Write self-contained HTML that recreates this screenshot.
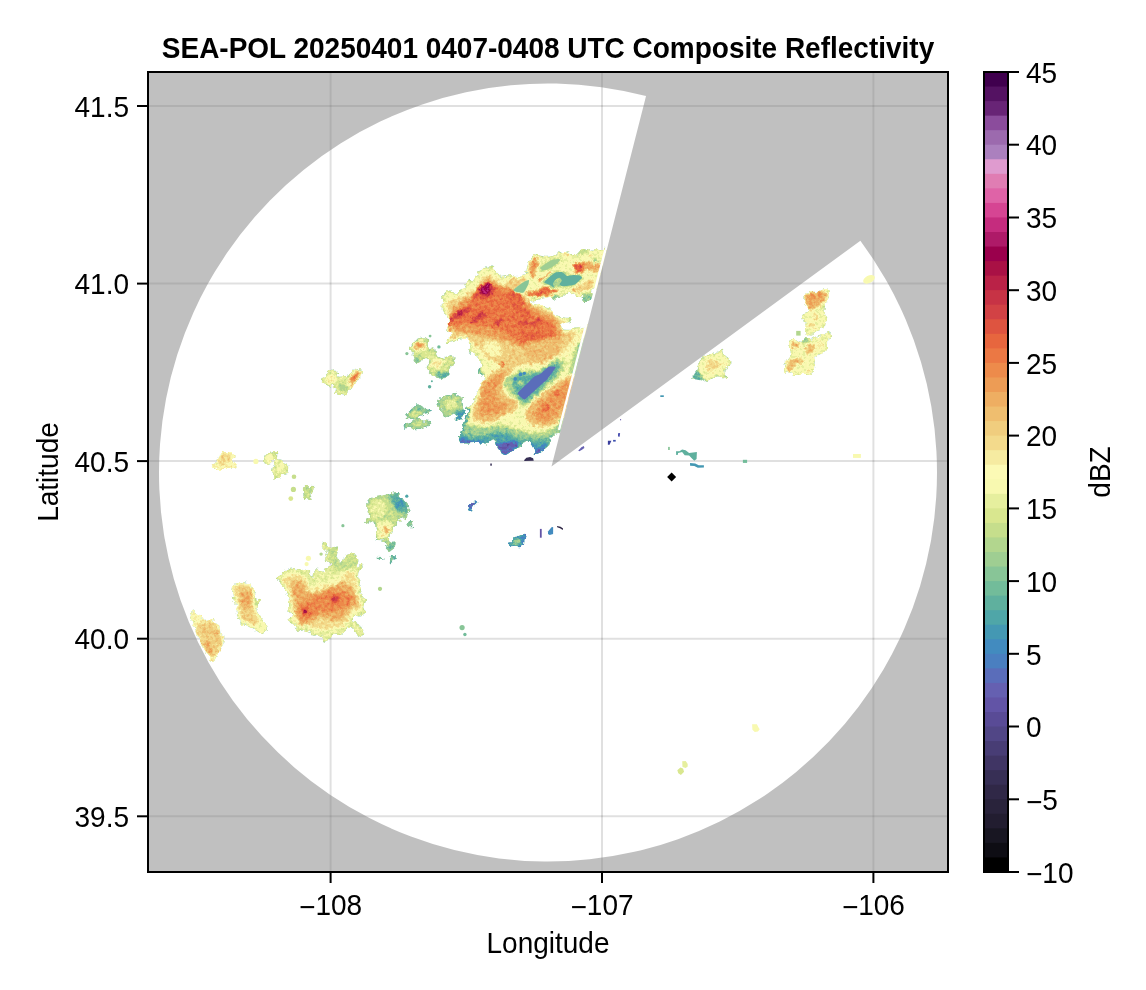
<!DOCTYPE html>
<html lang="en">
<head>
<meta charset="utf-8">
<title>SEA-POL 20250401 0407-0408 UTC Composite Reflectivity</title>
<style>
html,body{margin:0;padding:0;background:#fff;}
body{width:1146px;height:990px;overflow:hidden;}
svg{display:block;}
text{font-family:"Liberation Sans",sans-serif;font-size:28px;fill:#000;}
.t{font-weight:bold;}
</style>
</head>
<body>
<svg width="1146" height="990" viewBox="0 0 1146 990">
<rect x="0" y="0" width="1146" height="990" fill="#ffffff"/>

<defs><clipPath id="ax"><rect x="148" y="72" width="800" height="800"/></clipPath>
<clipPath id="wh"><path d="M551.5 466.5L860.39 240.70A389 389 0 1 1 646.03 96.06Z"/></clipPath>
</defs>
<g clip-path="url(#ax)">
<g stroke="#000" stroke-opacity="0.12" stroke-width="2"><line x1="330.6" y1="72" x2="330.6" y2="872"/><line x1="602.0" y1="72" x2="602.0" y2="872"/><line x1="873.4" y1="72" x2="873.4" y2="872"/><line x1="148" y1="106.0" x2="948" y2="106.0"/><line x1="148" y1="283.6" x2="948" y2="283.6"/><line x1="148" y1="461.1" x2="948" y2="461.1"/><line x1="148" y1="638.7" x2="948" y2="638.7"/><line x1="148" y1="816.3" x2="948" y2="816.3"/></g>
<g clip-path="url(#wh)">
<defs>
<filter id="f0" color-interpolation-filters="sRGB" x="-20%" y="-20%" width="140%" height="140%"><feGaussianBlur stdDeviation="0.6"/></filter>
<filter id="f1" color-interpolation-filters="sRGB" x="-30%" y="-30%" width="160%" height="160%"><feGaussianBlur stdDeviation="0.9"/></filter>
<filter id="f2" color-interpolation-filters="sRGB" x="-30%" y="-30%" width="160%" height="160%"><feGaussianBlur stdDeviation="1.7"/></filter>
<filter id="tex" filterUnits="userSpaceOnUse" x="150" y="230" width="760" height="560" color-interpolation-filters="sRGB"><feTurbulence type="fractalNoise" baseFrequency="0.22" numOctaves="2" seed="7" result="n"/><feDisplacementMap in="SourceGraphic" in2="n" scale="6" xChannelSelector="R" yChannelSelector="G" result="d"/><feFlood flood-color="#5a5a5a" result="bg"/><feComposite in="d" in2="bg" operator="over" result="dd"/><feTurbulence type="fractalNoise" baseFrequency="0.32" numOctaves="2" seed="21" result="m"/><feColorMatrix in="m" type="matrix" values="1 0 0 0 0  1 0 0 0 0  1 0 0 0 0  0 0 0 0 1" result="m1"/><feComposite in="dd" in2="m1" operator="arithmetic" k1="0" k2="1" k3="0.1" k4="-0.05" result="c"/><feComponentTransfer in="c" result="t"><feFuncR type="discrete" tableValues="0.000 0.055 0.094 0.133 0.161 0.188 0.216 0.251 0.282 0.318 0.349 0.384 0.396 0.353 0.290 0.259 0.267 0.310 0.373 0.447 0.533 0.624 0.698 0.776 0.851 0.902 0.973 0.988 0.965 0.953 0.941 0.937 0.933 0.929 0.929 0.922 0.906 0.871 0.824 0.780 0.729 0.663 0.604 0.682 0.773 0.839 0.875 0.878 0.875 0.671 0.612 0.545 0.408 0.329 0.251"/><feFuncG type="discrete" tableValues="0.000 0.051 0.086 0.114 0.137 0.157 0.184 0.208 0.239 0.275 0.294 0.329 0.376 0.427 0.498 0.545 0.596 0.651 0.690 0.737 0.773 0.808 0.839 0.871 0.906 0.937 0.976 0.980 0.922 0.855 0.804 0.745 0.682 0.612 0.545 0.471 0.400 0.329 0.259 0.200 0.133 0.067 0.000 0.102 0.173 0.271 0.388 0.490 0.608 0.502 0.416 0.298 0.141 0.071 0.000"/><feFuncB type="discrete" tableValues="0.000 0.078 0.133 0.188 0.231 0.278 0.333 0.392 0.459 0.525 0.588 0.651 0.694 0.729 0.753 0.749 0.702 0.659 0.620 0.604 0.592 0.573 0.557 0.549 0.561 0.620 0.690 0.710 0.631 0.549 0.494 0.435 0.384 0.333 0.294 0.267 0.243 0.251 0.271 0.271 0.278 0.271 0.298 0.408 0.494 0.576 0.655 0.702 0.812 0.745 0.682 0.612 0.463 0.384 0.306"/></feComponentTransfer><feComposite in="t" in2="d" operator="in"/></filter>
</defs>
<g filter="url(#tex)">
<clipPath id="b1"><path d="M442.7 297.6C443.4 295.0 444.9 293.6 446.2 292.4C447.5 291.2 449.1 290.3 450.6 290.3C452.0 290.3 453.0 292.5 454.9 292.4C456.8 292.3 460.0 291.4 461.9 289.8C463.8 288.2 465.0 284.6 466.3 282.8C467.6 281.0 468.5 278.9 469.8 278.8C471.1 278.6 472.8 283.0 474.1 281.9C475.5 280.8 476.2 274.5 477.6 272.3C479.1 270.1 480.8 269.8 482.9 268.8C484.9 267.8 487.8 265.9 489.9 266.2C491.9 266.5 493.1 268.8 495.1 270.6C497.1 272.3 499.5 276.0 502.1 276.7C504.7 277.4 508.0 274.9 510.8 274.9C513.6 275.0 516.3 277.2 518.8 276.9C521.3 276.6 524.5 274.7 525.8 273.4C527.1 272.1 526.1 271.0 526.7 269.0C527.3 266.9 527.9 263.5 529.3 261.1C530.8 258.7 533.7 255.4 535.5 254.5C537.2 253.6 538.3 255.5 539.9 255.8C541.5 256.2 543.0 256.7 545.1 256.7C547.3 256.7 550.7 256.7 553.1 255.8C555.4 254.9 557.5 251.9 559.2 251.4C561.0 251.0 562.1 253.2 563.6 253.2C565.1 253.2 566.7 251.1 568.0 251.4C569.3 251.7 570.0 254.5 571.5 254.9C573.0 255.4 574.9 255.2 576.8 254.1C578.7 253.0 581.2 248.9 582.9 248.3C584.7 247.8 585.4 250.4 587.3 250.5C589.2 250.7 592.2 249.3 594.4 249.2C596.6 249.2 598.5 249.9 600.5 250.1C602.6 250.3 605.6 244.0 606.7 250.5C607.7 257.1 608.7 282.8 606.7 289.2C604.6 295.7 597.0 288.6 594.4 289.2C591.7 289.8 591.1 291.4 590.8 292.7C590.6 294.0 592.9 295.7 592.6 297.1C592.3 298.6 590.6 300.8 589.1 301.5C587.6 302.2 584.8 302.4 583.8 301.5C582.8 300.6 584.1 297.0 582.9 296.2C581.8 295.5 578.1 297.4 576.8 297.1C575.5 296.8 576.1 295.2 575.0 294.5C574.0 293.7 572.4 292.7 570.6 292.7C568.9 292.7 565.8 293.9 564.5 294.5C563.2 295.1 563.9 295.7 562.7 296.2C561.6 296.8 558.6 297.3 557.5 298.0C556.3 298.7 556.4 300.3 555.7 300.6C555.0 300.9 553.8 300.3 553.1 299.8C552.3 299.2 552.6 297.4 551.3 297.1C550.0 296.8 547.2 297.6 545.1 298.0C543.1 298.4 541.2 299.3 539.0 299.8C536.8 300.2 533.4 300.2 532.0 300.6C530.6 301.1 529.9 301.9 530.7 302.6C531.4 303.2 534.2 304.0 536.4 304.6C538.5 305.1 541.2 305.4 543.4 305.9C545.6 306.4 548.1 306.5 549.5 307.7C551.0 308.8 550.9 311.6 552.2 312.9C553.5 314.3 555.7 314.8 557.5 315.6C559.2 316.3 560.7 316.9 562.7 317.3C564.8 317.8 568.6 317.5 569.8 318.2C570.9 318.9 570.6 320.9 569.8 321.7C568.9 322.5 566.1 322.6 564.5 323.0C562.9 323.5 560.5 323.6 560.1 324.4C559.6 325.2 559.9 327.1 561.8 327.9C563.7 328.6 568.4 328.8 571.5 328.8C574.6 328.8 576.5 328.2 580.3 327.9C584.1 327.6 592.0 317.9 594.4 327.0C596.8 336.1 594.6 364.7 594.7 382.4C594.7 400.1 600.8 424.6 594.7 433.1C588.6 441.5 564.7 432.6 558.0 433.1C551.3 433.5 555.8 434.5 554.5 435.7C553.2 436.8 551.0 438.4 550.1 440.0C549.3 441.6 550.6 443.5 549.3 445.3C547.9 447.0 544.6 449.1 542.3 450.5C539.9 452.0 536.7 454.3 535.3 454.0C533.8 453.7 534.7 450.8 533.5 448.8C532.4 446.7 530.3 442.4 528.3 441.8C526.3 441.2 523.9 443.8 521.3 445.3C518.7 446.7 515.2 448.9 512.6 450.5C510.0 452.1 507.6 454.6 505.6 454.9C503.6 455.2 501.8 453.9 500.3 452.3C498.9 450.7 498.0 447.5 496.9 445.3C495.7 443.1 495.1 439.3 493.4 439.2C491.6 439.0 488.4 443.7 486.4 444.4C484.3 445.1 483.2 443.8 481.1 443.5C479.1 443.2 476.8 442.7 474.1 442.7C471.5 442.7 467.9 444.0 465.4 443.5C462.9 443.1 460.2 441.8 459.3 440.0C458.4 438.3 459.4 435.7 460.2 433.1C460.9 430.4 462.5 427.5 463.7 424.3C464.8 421.1 466.7 416.6 467.2 413.8C467.6 411.1 465.4 409.5 466.3 407.7C467.2 406.0 470.7 405.5 472.4 403.4C474.1 401.2 475.5 397.8 476.8 394.6C478.1 391.4 479.0 386.9 480.3 384.1C481.6 381.4 484.6 379.5 484.6 378.0C484.6 376.6 481.4 376.9 480.3 375.4C479.1 374.0 477.5 370.8 477.6 369.3C477.8 367.8 480.8 368.4 481.1 366.7C481.4 364.9 480.8 361.3 479.4 358.8C477.9 356.3 474.1 352.9 472.4 351.8C470.7 350.8 469.2 353.7 468.9 352.7C468.6 351.7 470.9 348.2 470.7 345.7C470.4 343.2 468.9 338.9 467.2 337.9C465.4 336.8 463.4 338.7 460.2 339.6C457.0 340.4 450.3 342.9 447.9 343.1C445.6 343.2 445.6 341.9 446.2 340.4C446.8 339.0 451.4 335.9 451.4 334.3C451.4 332.7 446.6 332.9 446.2 330.8C445.8 328.8 448.8 324.4 448.8 322.1C448.8 319.8 447.4 319.2 446.2 316.9C445.0 314.5 442.4 311.3 441.8 308.1C441.3 304.9 442.0 300.3 442.7 297.6Z"/></clipPath>
<g clip-path="url(#b1)">
<path d="M442.7 297.6C443.4 295.0 444.9 293.6 446.2 292.4C447.5 291.2 449.1 290.3 450.6 290.3C452.0 290.3 453.0 292.5 454.9 292.4C456.8 292.3 460.0 291.4 461.9 289.8C463.8 288.2 465.0 284.6 466.3 282.8C467.6 281.0 468.5 278.9 469.8 278.8C471.1 278.6 472.8 283.0 474.1 281.9C475.5 280.8 476.2 274.5 477.6 272.3C479.1 270.1 480.8 269.8 482.9 268.8C484.9 267.8 487.8 265.9 489.9 266.2C491.9 266.5 493.1 268.8 495.1 270.6C497.1 272.3 499.5 276.0 502.1 276.7C504.7 277.4 508.0 274.9 510.8 274.9C513.6 275.0 516.3 277.2 518.8 276.9C521.3 276.6 524.5 274.7 525.8 273.4C527.1 272.1 526.1 271.0 526.7 269.0C527.3 266.9 527.9 263.5 529.3 261.1C530.8 258.7 533.7 255.4 535.5 254.5C537.2 253.6 538.3 255.5 539.9 255.8C541.5 256.2 543.0 256.7 545.1 256.7C547.3 256.7 550.7 256.7 553.1 255.8C555.4 254.9 557.5 251.9 559.2 251.4C561.0 251.0 562.1 253.2 563.6 253.2C565.1 253.2 566.7 251.1 568.0 251.4C569.3 251.7 570.0 254.5 571.5 254.9C573.0 255.4 574.9 255.2 576.8 254.1C578.7 253.0 581.2 248.9 582.9 248.3C584.7 247.8 585.4 250.4 587.3 250.5C589.2 250.7 592.2 249.3 594.4 249.2C596.6 249.2 598.5 249.9 600.5 250.1C602.6 250.3 605.6 244.0 606.7 250.5C607.7 257.1 608.7 282.8 606.7 289.2C604.6 295.7 597.0 288.6 594.4 289.2C591.7 289.8 591.1 291.4 590.8 292.7C590.6 294.0 592.9 295.7 592.6 297.1C592.3 298.6 590.6 300.8 589.1 301.5C587.6 302.2 584.8 302.4 583.8 301.5C582.8 300.6 584.1 297.0 582.9 296.2C581.8 295.5 578.1 297.4 576.8 297.1C575.5 296.8 576.1 295.2 575.0 294.5C574.0 293.7 572.4 292.7 570.6 292.7C568.9 292.7 565.8 293.9 564.5 294.5C563.2 295.1 563.9 295.7 562.7 296.2C561.6 296.8 558.6 297.3 557.5 298.0C556.3 298.7 556.4 300.3 555.7 300.6C555.0 300.9 553.8 300.3 553.1 299.8C552.3 299.2 552.6 297.4 551.3 297.1C550.0 296.8 547.2 297.6 545.1 298.0C543.1 298.4 541.2 299.3 539.0 299.8C536.8 300.2 533.4 300.2 532.0 300.6C530.6 301.1 529.9 301.9 530.7 302.6C531.4 303.2 534.2 304.0 536.4 304.6C538.5 305.1 541.2 305.4 543.4 305.9C545.6 306.4 548.1 306.5 549.5 307.7C551.0 308.8 550.9 311.6 552.2 312.9C553.5 314.3 555.7 314.8 557.5 315.6C559.2 316.3 560.7 316.9 562.7 317.3C564.8 317.8 568.6 317.5 569.8 318.2C570.9 318.9 570.6 320.9 569.8 321.7C568.9 322.5 566.1 322.6 564.5 323.0C562.9 323.5 560.5 323.6 560.1 324.4C559.6 325.2 559.9 327.1 561.8 327.9C563.7 328.6 568.4 328.8 571.5 328.8C574.6 328.8 576.5 328.2 580.3 327.9C584.1 327.6 592.0 317.9 594.4 327.0C596.8 336.1 594.6 364.7 594.7 382.4C594.7 400.1 600.8 424.6 594.7 433.1C588.6 441.5 564.7 432.6 558.0 433.1C551.3 433.5 555.8 434.5 554.5 435.7C553.2 436.8 551.0 438.4 550.1 440.0C549.3 441.6 550.6 443.5 549.3 445.3C547.9 447.0 544.6 449.1 542.3 450.5C539.9 452.0 536.7 454.3 535.3 454.0C533.8 453.7 534.7 450.8 533.5 448.8C532.4 446.7 530.3 442.4 528.3 441.8C526.3 441.2 523.9 443.8 521.3 445.3C518.7 446.7 515.2 448.9 512.6 450.5C510.0 452.1 507.6 454.6 505.6 454.9C503.6 455.2 501.8 453.9 500.3 452.3C498.9 450.7 498.0 447.5 496.9 445.3C495.7 443.1 495.1 439.3 493.4 439.2C491.6 439.0 488.4 443.7 486.4 444.4C484.3 445.1 483.2 443.8 481.1 443.5C479.1 443.2 476.8 442.7 474.1 442.7C471.5 442.7 467.9 444.0 465.4 443.5C462.9 443.1 460.2 441.8 459.3 440.0C458.4 438.3 459.4 435.7 460.2 433.1C460.9 430.4 462.5 427.5 463.7 424.3C464.8 421.1 466.7 416.6 467.2 413.8C467.6 411.1 465.4 409.5 466.3 407.7C467.2 406.0 470.7 405.5 472.4 403.4C474.1 401.2 475.5 397.8 476.8 394.6C478.1 391.4 479.0 386.9 480.3 384.1C481.6 381.4 484.6 379.5 484.6 378.0C484.6 376.6 481.4 376.9 480.3 375.4C479.1 374.0 477.5 370.8 477.6 369.3C477.8 367.8 480.8 368.4 481.1 366.7C481.4 364.9 480.8 361.3 479.4 358.8C477.9 356.3 474.1 352.9 472.4 351.8C470.7 350.8 469.2 353.7 468.9 352.7C468.6 351.7 470.9 348.2 470.7 345.7C470.4 343.2 468.9 338.9 467.2 337.9C465.4 336.8 463.4 338.7 460.2 339.6C457.0 340.4 450.3 342.9 447.9 343.1C445.6 343.2 445.6 341.9 446.2 340.4C446.8 339.0 451.4 335.9 451.4 334.3C451.4 332.7 446.6 332.9 446.2 330.8C445.8 328.8 448.8 324.4 448.8 322.1C448.8 319.8 447.4 319.2 446.2 316.9C445.0 314.5 442.4 311.3 441.8 308.1C441.3 304.9 442.0 300.3 442.7 297.6Z" fill="#686868"/>
<path d="M442.7 297.6C443.4 295.0 444.9 293.6 446.2 292.4C447.5 291.2 449.1 290.3 450.6 290.3C452.0 290.3 453.0 292.5 454.9 292.4C456.8 292.3 460.0 291.4 461.9 289.8C463.8 288.2 465.0 284.6 466.3 282.8C467.6 281.0 468.5 278.9 469.8 278.8C471.1 278.6 472.8 283.0 474.1 281.9C475.5 280.8 476.2 274.5 477.6 272.3C479.1 270.1 480.8 269.8 482.9 268.8C484.9 267.8 487.8 265.9 489.9 266.2C491.9 266.5 493.1 268.8 495.1 270.6C497.1 272.3 499.5 276.0 502.1 276.7C504.7 277.4 508.0 274.9 510.8 274.9C513.6 275.0 516.3 277.2 518.8 276.9C521.3 276.6 524.5 274.7 525.8 273.4C527.1 272.1 526.1 271.0 526.7 269.0C527.3 266.9 527.9 263.5 529.3 261.1C530.8 258.7 533.7 255.4 535.5 254.5C537.2 253.6 538.3 255.5 539.9 255.8C541.5 256.2 543.0 256.7 545.1 256.7C547.3 256.7 550.7 256.7 553.1 255.8C555.4 254.9 557.5 251.9 559.2 251.4C561.0 251.0 562.1 253.2 563.6 253.2C565.1 253.2 566.7 251.1 568.0 251.4C569.3 251.7 570.0 254.5 571.5 254.9C573.0 255.4 574.9 255.2 576.8 254.1C578.7 253.0 581.2 248.9 582.9 248.3C584.7 247.8 585.4 250.4 587.3 250.5C589.2 250.7 592.2 249.3 594.4 249.2C596.6 249.2 598.5 249.9 600.5 250.1C602.6 250.3 605.6 244.0 606.7 250.5C607.7 257.1 608.7 282.8 606.7 289.2C604.6 295.7 597.0 288.6 594.4 289.2C591.7 289.8 591.1 291.4 590.8 292.7C590.6 294.0 592.9 295.7 592.6 297.1C592.3 298.6 590.6 300.8 589.1 301.5C587.6 302.2 584.8 302.4 583.8 301.5C582.8 300.6 584.1 297.0 582.9 296.2C581.8 295.5 578.1 297.4 576.8 297.1C575.5 296.8 576.1 295.2 575.0 294.5C574.0 293.7 572.4 292.7 570.6 292.7C568.9 292.7 565.8 293.9 564.5 294.5C563.2 295.1 563.9 295.7 562.7 296.2C561.6 296.8 558.6 297.3 557.5 298.0C556.3 298.7 556.4 300.3 555.7 300.6C555.0 300.9 553.8 300.3 553.1 299.8C552.3 299.2 552.6 297.4 551.3 297.1C550.0 296.8 547.2 297.6 545.1 298.0C543.1 298.4 541.2 299.3 539.0 299.8C536.8 300.2 533.4 300.2 532.0 300.6C530.6 301.1 529.9 301.9 530.7 302.6C531.4 303.2 534.2 304.0 536.4 304.6C538.5 305.1 541.2 305.4 543.4 305.9C545.6 306.4 548.1 306.5 549.5 307.7C551.0 308.8 550.9 311.6 552.2 312.9C553.5 314.3 555.7 314.8 557.5 315.6C559.2 316.3 560.7 316.9 562.7 317.3C564.8 317.8 568.6 317.5 569.8 318.2C570.9 318.9 570.6 320.9 569.8 321.7C568.9 322.5 566.1 322.6 564.5 323.0C562.9 323.5 560.5 323.6 560.1 324.4C559.6 325.2 559.9 327.1 561.8 327.9C563.7 328.6 568.4 328.8 571.5 328.8C574.6 328.8 576.5 328.2 580.3 327.9C584.1 327.6 592.0 317.9 594.4 327.0C596.8 336.1 594.6 364.7 594.7 382.4C594.7 400.1 600.8 424.6 594.7 433.1C588.6 441.5 564.7 432.6 558.0 433.1C551.3 433.5 555.8 434.5 554.5 435.7C553.2 436.8 551.0 438.4 550.1 440.0C549.3 441.6 550.6 443.5 549.3 445.3C547.9 447.0 544.6 449.1 542.3 450.5C539.9 452.0 536.7 454.3 535.3 454.0C533.8 453.7 534.7 450.8 533.5 448.8C532.4 446.7 530.3 442.4 528.3 441.8C526.3 441.2 523.9 443.8 521.3 445.3C518.7 446.7 515.2 448.9 512.6 450.5C510.0 452.1 507.6 454.6 505.6 454.9C503.6 455.2 501.8 453.9 500.3 452.3C498.9 450.7 498.0 447.5 496.9 445.3C495.7 443.1 495.1 439.3 493.4 439.2C491.6 439.0 488.4 443.7 486.4 444.4C484.3 445.1 483.2 443.8 481.1 443.5C479.1 443.2 476.8 442.7 474.1 442.7C471.5 442.7 467.9 444.0 465.4 443.5C462.9 443.1 460.2 441.8 459.3 440.0C458.4 438.3 459.4 435.7 460.2 433.1C460.9 430.4 462.5 427.5 463.7 424.3C464.8 421.1 466.7 416.6 467.2 413.8C467.6 411.1 465.4 409.5 466.3 407.7C467.2 406.0 470.7 405.5 472.4 403.4C474.1 401.2 475.5 397.8 476.8 394.6C478.1 391.4 479.0 386.9 480.3 384.1C481.6 381.4 484.6 379.5 484.6 378.0C484.6 376.6 481.4 376.9 480.3 375.4C479.1 374.0 477.5 370.8 477.6 369.3C477.8 367.8 480.8 368.4 481.1 366.7C481.4 364.9 480.8 361.3 479.4 358.8C477.9 356.3 474.1 352.9 472.4 351.8C470.7 350.8 469.2 353.7 468.9 352.7C468.6 351.7 470.9 348.2 470.7 345.7C470.4 343.2 468.9 338.9 467.2 337.9C465.4 336.8 463.4 338.7 460.2 339.6C457.0 340.4 450.3 342.9 447.9 343.1C445.6 343.2 445.6 341.9 446.2 340.4C446.8 339.0 451.4 335.9 451.4 334.3C451.4 332.7 446.6 332.9 446.2 330.8C445.8 328.8 448.8 324.4 448.8 322.1C448.8 319.8 447.4 319.2 446.2 316.9C445.0 314.5 442.4 311.3 441.8 308.1C441.3 304.9 442.0 300.3 442.7 297.6Z" fill="#7b7b7b" filter="url(#f2)"/>
<path d="M461.9 424.3C464.5 421.5 467.5 425.4 472.4 426.1C477.3 426.8 481.5 428.0 486.4 427.8C491.3 427.6 492.0 425.2 496.9 425.2C501.7 425.2 505.2 426.6 510.8 427.8C516.4 429.0 519.2 430.3 524.8 431.3C530.4 432.4 533.2 433.4 538.8 433.1C544.4 432.7 548.6 431.3 552.8 429.6C556.9 427.8 558.3 423.3 559.7 424.3C561.1 425.4 561.7 431.3 559.7 434.8C557.8 438.3 553.6 438.6 550.1 441.8C546.6 444.9 545.2 448.1 542.3 450.5C539.3 453.0 537.4 455.1 535.3 454.0C533.2 453.0 534.6 447.0 531.8 445.3C529.0 443.5 526.6 443.4 521.3 445.3C516.1 447.2 510.5 454.9 505.6 454.9C500.7 454.9 499.3 448.4 496.9 445.3C494.4 442.1 495.5 439.3 493.4 439.2C491.3 439.0 490.2 443.7 486.4 444.4C482.5 445.1 479.6 443.5 474.1 442.7C468.7 441.8 461.7 443.7 459.3 440.0C456.9 436.4 459.3 427.1 461.9 424.3Z" fill="#646464" filter="url(#f2)"/>
<path d="M461.9 434.8C465.2 434.1 470.3 436.6 475.9 436.6C481.5 436.6 485.7 435.5 489.9 434.8C494.1 434.1 493.4 433.4 496.9 433.1C500.3 432.7 503.1 432.0 507.3 433.1C511.5 434.1 512.9 436.9 517.8 438.3C522.7 439.7 526.2 439.7 531.8 440.0C537.4 440.4 541.6 440.7 545.8 440.0C550.0 439.3 551.9 436.2 552.8 436.6C553.6 436.9 552.2 439.0 550.1 441.8C548.0 444.6 545.2 448.1 542.3 450.5C539.3 453.0 537.0 454.4 535.3 454.0C533.5 453.7 534.9 451.2 533.5 448.8C532.1 446.3 530.7 442.5 528.3 441.8C525.9 441.1 524.5 443.5 521.3 445.3C518.2 447.0 515.7 448.6 512.6 450.5C509.4 452.4 508.0 454.5 505.6 454.9C503.1 455.2 502.1 454.2 500.3 452.3C498.6 450.3 498.3 447.9 496.9 445.3C495.5 442.7 495.5 439.3 493.4 439.2C491.3 439.0 490.2 443.7 486.4 444.4C482.5 445.1 478.3 442.8 474.1 442.7C470.0 442.5 468.4 444.1 465.4 443.5C462.4 443.0 460.0 441.8 459.3 440.0C458.6 438.3 458.6 435.5 461.9 434.8Z" fill="#515151" filter="url(#f2)"/>
<path d="M496.9 441.8C497.2 440.0 499.3 443.5 502.1 443.5C504.9 443.5 507.7 441.8 510.8 441.8C514.0 441.8 517.5 441.8 517.8 443.5C518.2 445.3 515.0 448.3 512.6 450.5C510.1 452.8 508.0 454.5 505.6 454.9C503.1 455.2 502.1 454.9 500.3 452.3C498.6 449.7 496.5 443.5 496.9 441.8Z" fill="#3a3a3a" filter="url(#f1)"/>
<path d="M524.8 441.8C525.5 441.8 529.7 442.1 531.8 443.5C533.9 444.9 533.2 448.1 535.3 448.8C537.4 449.5 539.8 448.1 542.3 447.0C544.7 446.0 547.5 442.8 547.5 443.5C547.5 444.2 544.7 448.4 542.3 450.5C539.8 452.6 537.0 454.4 535.3 454.0C533.5 453.7 534.9 450.9 533.5 448.8C532.1 446.7 530.0 444.9 528.3 443.5C526.6 442.1 524.1 441.8 524.8 441.8Z" fill="#3a3a3a" filter="url(#f1)"/>
<path d="M460.2 438.3C462.8 438.4 468.2 440.2 472.4 440.9C476.6 441.6 478.3 441.1 481.1 441.8C483.9 442.5 487.8 444.1 486.4 444.4C485.0 444.7 478.3 443.3 474.1 443.2C470.0 443.1 468.4 444.4 465.4 443.9C462.4 443.3 460.3 441.5 459.3 440.4C458.3 439.3 457.6 438.2 460.2 438.3Z" fill="#3f3f3f" filter="url(#f1)"/>
<path d="M578.1 337.0C580.5 333.1 585.1 333.1 585.9 337.0C586.8 340.8 584.5 348.5 582.4 356.2C580.3 363.9 577.9 371.9 575.5 375.4C573.0 378.9 570.6 377.5 570.2 373.7C569.9 369.8 572.1 363.5 573.7 356.2C575.3 348.9 575.6 340.8 578.1 337.0Z" fill="#646464" filter="url(#f2)"/>
<path d="M559.7 417.3C561.8 413.8 564.6 413.8 565.0 417.3C565.3 420.8 563.6 431.3 561.5 434.8C559.4 438.3 554.8 438.3 554.5 434.8C554.1 431.3 557.6 420.8 559.7 417.3Z" fill="#646464" filter="url(#f2)"/>
<path d="M476.8 367.6C477.1 366.2 479.2 366.9 480.3 368.4C481.3 370.0 481.0 373.3 482.0 375.4C483.1 377.5 485.7 377.9 485.5 378.9C485.3 380.0 482.5 381.4 481.1 380.7C479.7 380.0 479.4 378.0 478.5 375.4C477.6 372.8 476.4 369.0 476.8 367.6Z" fill="#565656" filter="url(#f1)"/>
<path d="M464.5 406.9C465.6 404.2 467.5 404.9 468.0 407.7C468.6 410.5 468.0 416.8 467.2 420.8C466.3 424.8 464.9 425.0 463.7 427.8C462.4 430.6 461.9 433.8 461.0 434.8C460.2 435.9 459.0 435.9 459.3 433.1C459.7 430.3 461.7 426.1 462.8 420.8C463.8 415.6 463.5 409.5 464.5 406.9Z" fill="#4c4c4c" filter="url(#f1)"/>
<path d="M448.8 301.1C450.7 299.6 453.4 299.7 456.7 298.5C460.0 297.3 462.3 296.8 465.4 295.0C468.6 293.3 470.3 291.2 472.4 289.8C474.5 288.4 474.1 290.1 475.9 288.0C477.6 285.9 479.0 281.7 481.1 279.3C483.2 276.9 484.5 276.9 486.4 275.8C488.3 274.8 489.0 273.7 490.7 274.1C492.5 274.4 492.8 275.8 495.1 277.6C497.4 279.3 499.0 281.9 502.1 282.8C505.2 283.7 507.2 282.6 510.8 281.9C514.5 281.2 517.3 280.3 520.4 279.3C523.6 278.3 525.7 276.2 526.6 276.7C527.4 277.2 526.6 279.8 524.8 281.9C523.1 284.0 519.9 285.1 517.8 287.2C515.7 289.3 512.9 290.7 514.3 292.4C515.7 294.1 521.3 293.6 524.8 295.9C528.3 298.2 528.3 301.3 531.8 303.8C535.3 306.2 538.4 306.6 542.3 308.1C546.1 309.7 547.9 309.7 551.0 311.6C554.1 313.5 554.8 315.6 558.0 317.7C561.1 319.8 566.4 320.3 566.7 322.1C567.1 323.8 560.1 324.5 559.7 326.5C559.4 328.4 562.2 330.8 565.0 331.7C567.8 332.6 571.3 329.6 573.7 330.8C576.2 332.1 577.6 334.3 577.2 337.8C576.9 341.3 574.8 344.8 572.0 348.3C569.2 351.8 567.1 352.8 563.2 355.3C559.4 357.7 556.9 359.1 552.8 360.5C548.6 361.9 546.5 361.7 542.3 362.3C538.1 362.8 536.0 362.3 531.8 363.1C527.6 364.0 525.5 365.6 521.3 366.6C517.1 367.7 514.7 368.6 510.8 368.4C507.0 368.2 505.6 367.0 502.1 365.8C498.6 364.5 496.5 364.0 493.4 362.3C490.2 360.5 489.2 359.5 486.4 357.0C483.6 354.6 482.2 352.8 479.4 350.0C476.6 347.2 474.8 345.7 472.4 343.1C470.0 340.4 469.6 338.2 467.2 336.9C464.7 335.7 463.3 336.4 460.2 336.9C457.0 337.5 453.4 340.4 451.4 339.6C449.5 338.7 450.7 335.4 450.6 332.6C450.4 329.8 451.1 329.1 450.6 325.6C450.0 322.1 448.6 319.0 447.9 315.1C447.2 311.3 446.9 309.2 447.1 306.4C447.2 303.6 446.9 302.7 448.8 301.1Z" fill="#8d8d8d" filter="url(#f2)"/>
<path d="M450.6 315.1C451.4 311.6 452.3 309.3 454.9 306.4C457.6 303.4 460.3 302.5 463.7 300.3C467.0 298.0 468.9 297.3 471.5 295.0C474.1 292.8 474.7 291.4 476.8 288.9C478.9 286.5 479.4 284.7 482.0 282.8C484.6 280.9 486.9 279.3 489.9 279.3C492.8 279.3 494.1 281.2 496.9 282.8C499.7 284.4 501.0 286.1 503.8 287.2C506.6 288.2 508.7 286.3 510.8 288.0C512.9 289.8 511.5 293.3 514.3 295.9C517.1 298.5 520.6 298.7 524.8 301.1C529.0 303.6 531.1 305.7 535.3 308.1C539.5 310.6 541.9 311.3 545.8 313.4C549.6 315.5 551.7 315.8 554.5 318.6C557.3 321.4 558.3 323.5 559.7 327.3C561.1 331.2 562.2 334.3 561.5 337.8C560.8 341.3 559.4 342.7 556.2 344.8C553.1 346.9 550.3 347.2 545.8 348.3C541.2 349.3 538.1 350.0 533.5 350.0C529.0 350.0 526.9 349.3 523.1 348.3C519.2 347.2 517.8 346.2 514.3 344.8C510.8 343.4 509.4 342.7 505.6 341.3C501.7 339.9 499.3 338.9 495.1 337.8C490.9 336.8 488.8 336.8 484.6 336.1C480.4 335.4 478.3 335.0 474.1 334.3C470.0 333.6 467.5 333.3 463.7 332.6C459.8 331.9 457.6 332.6 454.9 330.8C452.3 329.1 451.4 327.0 450.6 323.8C449.7 320.7 449.7 318.6 450.6 315.1Z" fill="#9b9b9b" filter="url(#f2)"/>
<path d="M451.4 319.5C452.1 316.7 454.9 314.9 458.4 311.6C461.9 308.3 465.4 306.0 468.9 302.9C472.4 299.7 473.1 298.7 475.9 295.9C478.7 293.1 479.7 291.0 482.9 288.9C486.0 286.8 488.5 285.4 491.6 285.4C494.8 285.4 495.5 287.5 498.6 288.9C501.7 290.3 504.2 290.0 507.3 292.4C510.5 294.8 512.2 297.6 514.3 301.1C516.4 304.6 515.0 307.4 517.8 309.9C520.6 312.3 523.8 312.0 528.3 313.4C532.8 314.8 536.0 315.1 540.5 316.9C545.1 318.6 547.9 319.3 551.0 322.1C554.1 324.9 555.9 327.3 556.2 330.8C556.6 334.3 555.5 337.1 552.8 339.6C550.0 342.0 546.5 342.7 542.3 343.1C538.1 343.4 536.0 342.0 531.8 341.3C527.6 340.6 525.2 340.3 521.3 339.6C517.5 338.9 515.7 339.2 512.6 337.8C509.4 336.4 508.7 334.3 505.6 332.6C502.4 330.8 500.7 330.5 496.9 329.1C493.0 327.7 490.6 326.3 486.4 325.6C482.2 324.9 480.1 325.9 475.9 325.6C471.7 325.2 469.6 323.8 465.4 323.8C461.2 323.8 457.7 326.5 454.9 325.6C452.1 324.7 450.7 322.3 451.4 319.5Z" fill="#a5a5a5" filter="url(#f2)"/>
<path d="M507.3 292.4C508.0 290.0 511.2 289.6 514.3 290.7C517.5 291.7 521.0 294.5 523.1 297.6C525.2 300.8 523.1 303.2 524.8 306.4C526.6 309.5 531.8 311.3 531.8 313.4C531.8 315.5 527.9 317.2 524.8 316.9C521.7 316.5 518.9 314.4 516.1 311.6C513.3 308.8 512.6 306.7 510.8 302.9C509.1 299.0 506.6 294.8 507.3 292.4Z" fill="#a9a9a9" filter="url(#f1)"/>
<path d="M450.6 317.7C452.7 315.3 454.8 313.7 458.4 311.6C462.1 309.5 466.5 307.2 468.9 307.2C471.4 307.2 472.1 309.9 470.7 311.6C469.3 313.4 465.4 314.1 461.9 316.0C458.4 317.9 455.6 319.0 453.2 321.2C450.7 323.5 450.7 326.8 449.7 327.3C448.6 327.9 447.8 325.8 447.9 323.8C448.1 321.9 448.5 320.2 450.6 317.7Z" fill="#b2b2b2" filter="url(#f1)"/>
<path d="M470.7 320.3C471.7 318.8 474.8 316.7 477.6 315.1C480.4 313.5 482.9 312.3 484.6 312.5C486.4 312.7 487.4 314.6 486.4 316.0C485.3 317.4 482.2 318.1 479.4 319.5C476.6 320.9 474.1 322.8 472.4 323.0C470.7 323.1 469.6 321.9 470.7 320.3Z" fill="#b2b2b2" filter="url(#f1)"/>
<path d="M493.4 323.8C494.1 322.3 498.6 319.1 500.3 318.6C502.1 318.1 502.8 319.7 502.1 321.2C501.4 322.8 498.6 325.9 496.9 326.5C495.1 327.0 492.7 325.4 493.4 323.8Z" fill="#b2b2b2" filter="url(#f1)"/>
<path d="M530.0 323.8C531.1 322.1 536.3 319.0 538.8 318.6C541.2 318.3 543.3 320.3 542.3 322.1C541.2 323.8 536.0 327.0 533.5 327.3C531.1 327.7 529.0 325.6 530.0 323.8Z" fill="#aeaeae" filter="url(#f1)"/>
<path d="M517.8 337.8C519.6 335.9 526.2 333.3 531.8 332.6C537.4 331.9 542.3 332.9 545.8 334.3C549.3 335.7 551.4 338.2 549.3 339.6C547.2 341.0 540.5 340.8 535.3 341.3C530.0 341.8 526.6 342.9 523.1 342.2C519.6 341.5 516.1 339.7 517.8 337.8Z" fill="#a9a9a9" filter="url(#f1)"/>
<path d="M517.8 322.1C518.2 320.3 522.7 318.6 524.8 318.6C526.9 318.6 528.6 320.3 528.3 322.1C527.9 323.8 525.2 327.3 523.1 327.3C521.0 327.3 517.5 323.8 517.8 322.1Z" fill="#aeaeae" filter="url(#f1)"/>
<path d="M474.1 295.9C474.1 293.8 476.1 290.5 478.5 288.0C481.0 285.6 483.4 283.8 486.4 283.7C489.3 283.5 492.0 285.1 493.4 287.2C494.8 289.3 494.8 291.9 493.4 294.1C492.0 296.4 489.3 297.6 486.4 298.5C483.4 299.4 481.0 299.0 478.5 298.5C476.1 298.0 474.1 298.0 474.1 295.9Z" fill="#aeaeae" filter="url(#f1)"/>
<path d="M479.2 292.2C478.9 290.5 479.7 288.5 481.0 286.9C482.2 285.3 483.4 284.4 485.4 284.3C487.3 284.1 489.4 284.6 490.6 286.0C491.9 287.4 492.0 289.5 491.5 291.3C491.0 293.1 489.8 294.0 488.0 294.8C486.2 295.6 484.5 295.8 482.7 295.3C481.0 294.7 479.6 293.8 479.2 292.2Z" fill="#c0c0c0" filter="url(#f1)"/>
<circle cx="485.8" cy="289.5" r="3.5" fill="#cacaca" filter="url(#f1)"/>
<circle cx="459.9" cy="313.7" r="2.5" fill="#c0c0c0" filter="url(#f1)"/>
<circle cx="481.8" cy="313.3" r="1.8" fill="#bcbcbc" filter="url(#f1)"/>
<circle cx="473.9" cy="319.9" r="1.9" fill="#bcbcbc" filter="url(#f1)"/>
<circle cx="449.3" cy="330.0" r="1.4" fill="#bcbcbc" filter="url(#f1)"/>
<path d="M484.6 344.0C486.6 342.6 490.2 341.9 493.4 342.2C496.5 342.6 498.6 343.6 500.3 345.7C502.1 347.8 503.1 350.6 502.1 352.7C501.0 354.8 497.9 355.9 495.1 356.2C492.3 356.6 490.4 355.9 488.1 354.5C485.9 353.1 484.5 351.3 483.8 349.2C483.1 347.1 482.7 345.4 484.6 344.0Z" fill="#808080" filter="url(#f1)"/>
<path d="M528.9 269.0C529.2 266.0 530.5 263.4 532.0 261.1C533.5 258.8 535.0 257.4 536.4 257.6C537.7 257.8 538.4 259.5 538.6 262.0C538.7 264.4 538.0 266.9 537.2 269.9C536.4 272.9 536.0 275.7 534.6 276.9C533.2 278.1 531.4 277.6 530.2 276.0C529.1 274.4 528.5 272.0 528.9 269.0Z" fill="#979797" filter="url(#f1)"/>
<circle cx="533.3" cy="265.5" r="1.9" fill="#a9a9a9" filter="url(#f1)"/>
<circle cx="531.1" cy="272.5" r="1.8" fill="#a5a5a5" filter="url(#f1)"/>
<path d="M510.0 278.7C511.1 277.1 513.3 277.6 515.3 277.8C517.2 278.0 518.1 279.5 519.7 279.5C521.2 279.5 522.1 277.6 523.2 277.8C524.2 278.0 525.5 279.2 524.9 280.4C524.4 281.7 522.5 283.1 520.5 283.9C518.6 284.8 517.4 284.5 515.3 284.8C513.2 285.2 511.1 286.9 510.0 285.7C508.9 284.5 508.9 280.2 510.0 278.7Z" fill="#8d8d8d" filter="url(#f1)"/>
<path d="M537.2 280.4C537.8 279.5 539.9 278.7 541.6 277.8C543.4 276.9 544.4 277.4 546.0 276.0C547.6 274.6 548.5 271.3 549.5 270.8C550.6 270.2 551.7 272.0 551.3 273.4C550.9 274.8 549.4 276.4 547.8 277.8C546.2 279.2 545.1 279.5 543.4 280.4C541.6 281.3 540.2 282.2 539.0 282.2C537.8 282.2 536.7 281.3 537.2 280.4Z" fill="#a0a0a0" filter="url(#f1)"/>
<circle cx="567.1" cy="254.5" r="2.1" fill="#929292" filter="url(#f1)"/>
<circle cx="590.0" cy="255.8" r="1.9" fill="#929292" filter="url(#f1)"/>
<path d="M572.4 264.6C573.3 263.4 576.1 263.6 578.5 262.8C581.0 262.1 580.8 261.1 584.7 261.1C588.6 261.1 594.7 262.0 597.9 262.8C601.0 263.7 600.2 263.9 600.5 265.5C600.9 267.1 600.9 269.3 599.6 270.8C598.4 272.2 596.8 272.5 594.4 272.5C591.9 272.5 589.8 270.8 587.3 270.8C584.9 270.8 584.5 271.8 582.1 272.5C579.6 273.2 576.6 275.0 575.0 274.3C573.4 273.6 574.7 270.9 574.1 269.0C573.6 267.1 571.5 265.8 572.4 264.6Z" fill="#979797" filter="url(#f1)"/>
<path d="M575.0 265.0C576.5 263.3 581.3 263.6 582.9 264.6C584.6 265.6 583.9 268.1 583.4 269.9C582.8 271.6 581.9 272.7 580.3 273.4C578.7 274.1 576.5 275.1 575.5 273.4C574.4 271.7 573.5 266.8 575.0 265.0Z" fill="#a9a9a9" filter="url(#f1)"/>
<circle cx="580.3" cy="267.7" r="1.3" fill="#bcbcbc" filter="url(#f1)"/>
<path d="M525.8 292.7C526.0 291.7 529.3 291.7 532.0 291.0C534.6 290.3 536.4 290.1 539.0 289.2C541.6 288.3 542.5 286.7 545.1 286.6C547.8 286.4 549.7 287.6 552.2 288.3C554.6 289.0 556.0 289.4 557.5 290.1C558.9 290.8 560.3 291.0 559.2 291.8C558.2 292.7 555.0 293.6 552.2 294.5C549.4 295.4 548.0 295.7 545.1 296.2C542.3 296.8 540.9 297.1 538.1 297.1C535.3 297.1 533.6 297.1 531.1 296.2C528.6 295.4 525.6 293.8 525.8 292.7Z" fill="#a5a5a5" filter="url(#f1)"/>
<circle cx="540.3" cy="293.4" r="1.8" fill="#bcbcbc" filter="url(#f1)"/>
<path d="M571.5 289.2C572.2 288.2 574.5 288.0 576.8 286.6C579.1 285.2 580.5 283.8 582.9 282.2C585.4 280.6 586.8 279.2 589.1 278.7C591.4 278.1 593.5 278.5 594.4 279.5C595.2 280.6 594.5 282.0 593.5 283.9C592.4 285.9 591.2 287.8 589.1 289.2C587.0 290.6 585.4 290.3 582.9 291.0C580.5 291.7 578.7 292.5 576.8 292.7C574.9 292.9 574.3 292.5 573.3 291.8C572.2 291.1 570.8 290.3 571.5 289.2Z" fill="#8d8d8d" filter="url(#f1)"/>
<circle cx="573.7" cy="289.2" r="1.4" fill="#a5a5a5" filter="url(#f1)"/>
<path d="M539.9 267.2C541.8 265.0 547.3 261.2 551.3 259.3C555.3 257.5 557.8 257.7 559.6 258.0C561.5 258.4 561.8 259.2 560.5 261.1C559.2 262.9 555.8 265.4 553.1 267.2C550.3 269.1 549.2 269.6 546.9 270.3C544.6 271.0 543.0 271.4 541.6 270.8C540.2 270.1 537.9 269.5 539.9 267.2Z" fill="#6d6d6d" filter="url(#f1)"/>
<path d="M543.4 282.2C543.4 280.2 547.1 278.1 549.5 276.0C552.0 273.9 553.2 272.6 555.7 271.6C558.2 270.7 559.6 270.5 561.8 271.2C564.1 271.9 564.8 274.5 567.1 275.1C569.4 275.8 570.6 274.4 573.3 274.3C575.9 274.2 578.4 274.0 580.3 274.7C582.2 275.4 583.2 276.3 582.9 277.8C582.7 279.3 580.6 280.7 579.0 282.2C577.4 283.7 577.2 284.4 575.0 285.3C572.8 286.1 570.6 286.2 568.0 286.6C565.4 286.9 564.7 286.7 561.8 287.0C559.0 287.4 556.4 288.6 553.9 288.3C551.5 288.1 551.7 286.9 549.5 285.7C547.4 284.5 543.4 284.1 543.4 282.2Z" fill="#686868" filter="url(#f1)"/>
<path d="M552.2 296.2C553.1 295.4 556.4 295.4 557.5 296.2C558.5 297.1 558.3 299.8 557.5 300.6C556.6 301.5 554.1 301.5 553.1 300.6C552.0 299.8 551.3 297.1 552.2 296.2Z" fill="#5f5f5f" filter="url(#f1)"/>
<path d="M583.8 294.5C585.6 293.1 590.8 293.1 592.6 294.5C594.4 295.9 594.4 300.1 592.6 301.5C590.8 302.9 585.6 302.9 583.8 301.5C582.1 300.1 582.1 295.9 583.8 294.5Z" fill="#5f5f5f" filter="url(#f1)"/>
<path d="M592.6 259.3C593.5 258.8 596.8 258.8 597.9 259.3C598.9 259.9 598.8 261.4 597.9 262.0C597.0 262.5 594.5 262.5 593.5 262.0C592.4 261.4 591.7 259.9 592.6 259.3Z" fill="#5a5a5a" filter="url(#f1)"/>
<path d="M576.8 249.7C577.5 248.3 580.8 248.2 582.9 248.3C585.0 248.5 586.8 249.4 587.3 250.5C587.9 251.7 587.2 253.2 585.6 254.1C584.0 254.9 581.2 255.8 579.4 254.9C577.7 254.1 576.1 251.0 576.8 249.7Z" fill="#6d6d6d" filter="url(#f1)"/>
<path d="M524.8 344.8C528.3 341.7 536.0 341.0 542.3 339.6C548.6 338.2 552.1 336.8 556.2 337.8C560.4 338.9 562.5 341.3 563.2 344.8C563.9 348.3 562.5 351.8 559.7 355.3C556.9 358.8 554.1 360.9 549.3 362.3C544.4 363.7 540.2 363.7 535.3 362.3C530.4 360.9 526.9 358.8 524.8 355.3C522.7 351.8 521.3 347.9 524.8 344.8Z" fill="#929292" filter="url(#f2)"/>
<path d="M582.4 327.3C585.6 325.2 588.7 327.3 587.7 330.8C586.6 334.3 582.1 339.2 577.2 344.8C572.3 350.4 568.8 353.9 563.2 358.8C557.6 363.7 554.8 366.5 549.3 369.3C543.7 372.1 538.8 372.8 535.3 372.8C531.8 372.8 529.7 371.0 531.8 369.3C533.9 367.5 540.2 367.2 545.8 364.0C551.4 360.9 554.5 358.1 559.7 353.5C565.0 349.0 567.4 346.6 572.0 341.3C576.5 336.1 579.3 329.4 582.4 327.3Z" fill="#808080" filter="url(#f2)"/>
<path d="M481.1 382.4C483.2 378.6 486.0 376.5 489.9 373.7C493.7 370.9 495.8 369.7 500.3 368.4C504.9 367.2 510.5 366.2 512.6 367.6C514.7 369.0 512.2 372.4 510.8 375.4C509.4 378.4 507.3 379.6 505.6 382.4C503.8 385.2 501.4 386.6 502.1 389.4C502.8 392.2 506.3 394.3 509.1 396.4C511.9 398.5 514.3 397.8 516.1 399.9C517.8 402.0 519.2 404.1 517.8 406.9C516.4 409.7 512.9 411.4 509.1 413.8C505.2 416.3 503.1 417.3 498.6 419.1C494.1 420.8 490.9 422.2 486.4 422.6C481.8 422.9 478.7 422.6 475.9 420.8C473.1 419.1 472.4 417.3 472.4 413.8C472.4 410.3 474.5 407.6 475.9 403.4C477.3 399.2 478.3 397.1 479.4 392.9C480.4 388.7 479.0 386.2 481.1 382.4Z" fill="#929292" filter="url(#f2)"/>
<path d="M484.6 385.9C486.9 382.8 489.5 379.8 493.4 377.2C497.2 374.5 502.1 372.1 503.8 372.8C505.6 373.5 503.5 377.3 502.1 380.7C500.7 384.0 497.9 385.9 496.9 389.4C495.8 392.9 495.5 395.3 496.9 398.1C498.3 400.9 501.7 401.3 503.8 403.4C505.9 405.5 508.7 406.5 507.3 408.6C505.9 410.7 501.0 412.4 496.9 413.8C492.7 415.2 489.9 415.9 486.4 415.6C482.9 415.2 480.6 414.9 479.4 412.1C478.2 409.3 479.7 405.5 480.3 401.6C480.8 397.8 481.1 396.0 482.0 392.9C482.9 389.7 482.4 389.0 484.6 385.9Z" fill="#9b9b9b" filter="url(#f2)"/>
<path d="M528.3 406.9C531.1 402.7 534.6 400.2 538.8 396.4C543.0 392.5 545.1 390.8 549.3 387.6C553.4 384.5 555.5 383.1 559.7 380.7C563.9 378.2 567.1 375.8 570.2 375.4C573.4 375.1 574.8 375.8 575.5 378.9C576.2 382.1 575.1 385.9 573.7 391.1C572.3 396.4 570.6 399.9 568.5 405.1C566.4 410.3 566.0 413.5 563.2 417.3C560.4 421.2 558.7 422.4 554.5 424.3C550.3 426.2 546.8 426.9 542.3 426.9C537.7 426.9 535.3 426.2 531.8 424.3C528.3 422.4 525.5 420.8 524.8 417.3C524.1 413.8 525.5 411.0 528.3 406.9Z" fill="#929292" filter="url(#f2)"/>
<path d="M535.3 408.6C537.7 405.1 541.6 402.0 545.8 398.1C550.0 394.3 551.7 392.9 556.2 389.4C560.8 385.9 565.7 380.3 568.5 380.7C571.3 381.0 570.9 386.6 570.2 391.1C569.5 395.7 567.4 398.8 565.0 403.4C562.5 407.9 561.1 410.3 558.0 413.8C554.8 417.3 553.1 419.4 549.3 420.8C545.4 422.2 541.9 421.9 538.8 420.8C535.6 419.8 534.2 418.0 533.5 415.6C532.8 413.1 532.8 412.1 535.3 408.6Z" fill="#9b9b9b" filter="url(#f2)"/>
<circle cx="558.0" cy="392.9" r="3.5" fill="#a5a5a5" filter="url(#f1)"/>
<circle cx="545.8" cy="407.7" r="4.2" fill="#a5a5a5" filter="url(#f1)"/>
<circle cx="502.1" cy="364.1" r="2.4" fill="#a9a9a9" filter="url(#f1)"/>
<circle cx="531.8" cy="364.1" r="1.7" fill="#a9a9a9" filter="url(#f1)"/>
<path d="M503.8 380.7C504.9 377.5 508.4 375.6 512.6 373.7C516.8 371.7 519.6 371.7 524.8 371.0C530.0 370.3 533.9 371.7 538.8 370.2C543.7 368.6 545.4 365.5 549.3 363.2C553.1 360.9 554.8 359.3 558.0 358.8C561.1 358.3 563.9 358.6 565.0 360.6C566.0 362.5 564.6 365.1 563.2 368.4C561.8 371.7 560.8 374.0 558.0 377.2C555.2 380.3 552.8 381.0 549.3 384.1C545.8 387.3 544.0 389.7 540.5 392.9C537.0 396.0 534.9 397.4 531.8 399.9C528.6 402.3 527.2 404.4 524.8 405.1C522.4 405.8 521.7 405.1 519.6 403.4C517.5 401.6 516.8 399.2 514.3 396.4C511.9 393.6 509.4 392.5 507.3 389.4C505.2 386.2 502.8 383.8 503.8 380.7Z" fill="#686868" filter="url(#f2)"/>
<path d="M512.6 382.4C512.9 378.9 514.7 377.2 517.8 375.4C521.0 373.7 523.4 374.5 528.3 373.7C533.2 372.8 537.4 373.0 542.3 371.0C547.2 369.1 549.3 365.5 552.8 364.1C556.2 362.7 558.7 362.5 559.7 364.1C560.8 365.6 560.1 368.6 558.0 371.9C555.9 375.2 553.1 376.8 549.3 380.7C545.4 384.5 543.3 386.9 538.8 391.1C534.2 395.3 530.0 399.9 526.6 401.6C523.1 403.4 523.4 401.6 521.3 399.9C519.2 398.1 517.8 396.4 516.1 392.9C514.3 389.4 512.2 385.9 512.6 382.4Z" fill="#565656" filter="url(#f2)"/>
<circle cx="520.4" cy="383.3" r="2.3" fill="#6d6d6d" filter="url(#f1)"/>
</g>
<clipPath id="b2"><path d="M321.8 381.5C321.8 379.6 324.1 377.0 326.2 374.5C328.3 372.1 330.2 369.8 332.3 369.3C334.4 368.8 335.6 370.5 336.7 371.9C337.7 373.3 336.2 375.4 337.6 376.3C339.0 377.2 341.4 376.6 343.7 376.3C345.9 375.9 346.8 375.8 348.9 374.5C351.0 373.3 351.9 371.2 354.1 370.2C356.4 369.1 358.5 369.0 360.3 369.3C362.0 369.7 363.1 370.3 362.9 371.9C362.7 373.5 360.8 375.1 359.4 377.2C358.0 379.3 357.3 380.7 355.9 382.4C354.5 384.1 354.0 384.3 352.4 385.9C350.8 387.5 349.1 388.5 348.0 390.3C347.0 392.0 348.2 393.6 347.2 394.6C346.1 395.7 344.9 395.9 342.8 395.5C340.7 395.2 338.3 394.3 336.7 392.9C335.1 391.5 336.0 389.9 334.9 388.5C333.9 387.1 333.2 386.8 331.4 385.9C329.7 385.0 328.1 385.0 326.2 384.1C324.3 383.3 321.8 383.4 321.8 381.5Z"/></clipPath>
<g clip-path="url(#b2)">
<path d="M321.8 381.5C321.8 379.6 324.1 377.0 326.2 374.5C328.3 372.1 330.2 369.8 332.3 369.3C334.4 368.8 335.6 370.5 336.7 371.9C337.7 373.3 336.2 375.4 337.6 376.3C339.0 377.2 341.4 376.6 343.7 376.3C345.9 375.9 346.8 375.8 348.9 374.5C351.0 373.3 351.9 371.2 354.1 370.2C356.4 369.1 358.5 369.0 360.3 369.3C362.0 369.7 363.1 370.3 362.9 371.9C362.7 373.5 360.8 375.1 359.4 377.2C358.0 379.3 357.3 380.7 355.9 382.4C354.5 384.1 354.0 384.3 352.4 385.9C350.8 387.5 349.1 388.5 348.0 390.3C347.0 392.0 348.2 393.6 347.2 394.6C346.1 395.7 344.9 395.9 342.8 395.5C340.7 395.2 338.3 394.3 336.7 392.9C335.1 391.5 336.0 389.9 334.9 388.5C333.9 387.1 333.2 386.8 331.4 385.9C329.7 385.0 328.1 385.0 326.2 384.1C324.3 383.3 321.8 383.4 321.8 381.5Z" fill="#6d6d6d"/>
<path d="M321.8 381.5C321.8 379.6 324.1 377.0 326.2 374.5C328.3 372.1 330.2 369.8 332.3 369.3C334.4 368.8 335.6 370.5 336.7 371.9C337.7 373.3 336.2 375.4 337.6 376.3C339.0 377.2 341.4 376.6 343.7 376.3C345.9 375.9 346.8 375.8 348.9 374.5C351.0 373.3 351.9 371.2 354.1 370.2C356.4 369.1 358.5 369.0 360.3 369.3C362.0 369.7 363.1 370.3 362.9 371.9C362.7 373.5 360.8 375.1 359.4 377.2C358.0 379.3 357.3 380.7 355.9 382.4C354.5 384.1 354.0 384.3 352.4 385.9C350.8 387.5 349.1 388.5 348.0 390.3C347.0 392.0 348.2 393.6 347.2 394.6C346.1 395.7 344.9 395.9 342.8 395.5C340.7 395.2 338.3 394.3 336.7 392.9C335.1 391.5 336.0 389.9 334.9 388.5C333.9 387.1 333.2 386.8 331.4 385.9C329.7 385.0 328.1 385.0 326.2 384.1C324.3 383.3 321.8 383.4 321.8 381.5Z" fill="#767676" filter="url(#f2)"/>
<path d="M326.2 378.9C326.7 377.5 328.8 375.6 330.6 375.4C332.3 375.2 334.4 376.6 334.9 378.0C335.5 379.4 334.6 381.5 333.2 382.4C331.8 383.3 329.3 383.1 327.9 382.4C326.6 381.7 325.7 380.3 326.2 378.9Z" fill="#848484" filter="url(#f1)"/>
<path d="M337.6 384.1C338.3 382.4 341.7 382.1 343.7 382.4C345.6 382.8 346.8 384.1 347.2 385.9C347.5 387.6 346.8 390.1 345.4 391.1C344.0 392.2 341.7 392.5 340.2 391.1C338.6 389.7 336.9 385.9 337.6 384.1Z" fill="#686868" filter="url(#f1)"/>
<path d="M348.9 383.3C348.9 381.4 350.0 378.6 351.5 376.3C353.1 373.9 354.8 372.5 356.8 371.6C358.7 370.6 360.8 370.5 361.1 371.6C361.5 372.7 359.7 375.0 358.5 377.2C357.3 379.3 356.4 380.7 355.0 382.4C353.6 384.1 352.8 385.7 351.5 385.9C350.3 386.1 348.9 385.2 348.9 383.3Z" fill="#979797" filter="url(#f1)"/>
<path d="M352.1 379.8C352.1 378.7 353.2 376.8 354.1 375.8C355.1 374.7 356.3 374.1 356.8 374.5C357.2 375.0 356.8 376.7 356.2 378.0C355.7 379.3 354.6 380.7 353.8 381.0C353.0 381.4 352.0 380.8 352.1 379.8Z" fill="#a9a9a9" filter="url(#f1)"/>
</g>
<clipPath id="b3"><path d="M410.0 347.5C410.4 345.4 411.4 344.0 413.5 342.2C415.6 340.5 417.7 339.3 420.5 338.7C423.3 338.2 425.9 337.9 427.5 339.6C429.1 341.4 427.0 345.9 428.4 347.5C429.8 349.0 432.9 346.4 434.5 347.5C436.1 348.5 435.2 351.0 436.2 352.7C437.3 354.5 437.6 355.2 439.7 356.2C441.8 357.2 444.3 357.9 446.7 357.9C449.2 357.9 450.2 355.7 452.0 356.2C453.7 356.7 455.1 358.8 455.5 360.6C455.8 362.3 454.8 363.5 453.7 364.9C452.7 366.3 451.3 365.8 450.2 367.6C449.2 369.3 449.5 371.6 448.5 373.7C447.4 375.8 446.7 377.3 445.0 378.0C443.2 378.7 441.8 377.5 439.7 377.2C437.6 376.8 436.6 377.2 434.5 376.3C432.4 375.4 430.8 374.7 429.3 372.8C427.7 370.9 426.6 369.0 426.6 366.7C426.6 364.4 429.4 363.2 429.3 361.4C429.1 359.7 427.5 358.1 425.8 357.9C424.0 357.8 422.3 359.5 420.5 360.6C418.8 361.6 418.4 363.2 417.0 363.2C415.6 363.2 413.9 362.0 413.5 360.6C413.2 359.2 415.6 357.8 415.3 356.2C414.9 354.6 412.8 354.5 411.8 352.7C410.7 351.0 409.7 349.6 410.0 347.5Z"/></clipPath>
<g clip-path="url(#b3)">
<path d="M410.0 347.5C410.4 345.4 411.4 344.0 413.5 342.2C415.6 340.5 417.7 339.3 420.5 338.7C423.3 338.2 425.9 337.9 427.5 339.6C429.1 341.4 427.0 345.9 428.4 347.5C429.8 349.0 432.9 346.4 434.5 347.5C436.1 348.5 435.2 351.0 436.2 352.7C437.3 354.5 437.6 355.2 439.7 356.2C441.8 357.2 444.3 357.9 446.7 357.9C449.2 357.9 450.2 355.7 452.0 356.2C453.7 356.7 455.1 358.8 455.5 360.6C455.8 362.3 454.8 363.5 453.7 364.9C452.7 366.3 451.3 365.8 450.2 367.6C449.2 369.3 449.5 371.6 448.5 373.7C447.4 375.8 446.7 377.3 445.0 378.0C443.2 378.7 441.8 377.5 439.7 377.2C437.6 376.8 436.6 377.2 434.5 376.3C432.4 375.4 430.8 374.7 429.3 372.8C427.7 370.9 426.6 369.0 426.6 366.7C426.6 364.4 429.4 363.2 429.3 361.4C429.1 359.7 427.5 358.1 425.8 357.9C424.0 357.8 422.3 359.5 420.5 360.6C418.8 361.6 418.4 363.2 417.0 363.2C415.6 363.2 413.9 362.0 413.5 360.6C413.2 359.2 415.6 357.8 415.3 356.2C414.9 354.6 412.8 354.5 411.8 352.7C410.7 351.0 409.7 349.6 410.0 347.5Z" fill="#5f5f5f"/>
<path d="M410.0 347.5C410.4 345.4 411.4 344.0 413.5 342.2C415.6 340.5 417.7 339.3 420.5 338.7C423.3 338.2 425.9 337.9 427.5 339.6C429.1 341.4 427.0 345.9 428.4 347.5C429.8 349.0 432.9 346.4 434.5 347.5C436.1 348.5 435.2 351.0 436.2 352.7C437.3 354.5 437.6 355.2 439.7 356.2C441.8 357.2 444.3 357.9 446.7 357.9C449.2 357.9 450.2 355.7 452.0 356.2C453.7 356.7 455.1 358.8 455.5 360.6C455.8 362.3 454.8 363.5 453.7 364.9C452.7 366.3 451.3 365.8 450.2 367.6C449.2 369.3 449.5 371.6 448.5 373.7C447.4 375.8 446.7 377.3 445.0 378.0C443.2 378.7 441.8 377.5 439.7 377.2C437.6 376.8 436.6 377.2 434.5 376.3C432.4 375.4 430.8 374.7 429.3 372.8C427.7 370.9 426.6 369.0 426.6 366.7C426.6 364.4 429.4 363.2 429.3 361.4C429.1 359.7 427.5 358.1 425.8 357.9C424.0 357.8 422.3 359.5 420.5 360.6C418.8 361.6 418.4 363.2 417.0 363.2C415.6 363.2 413.9 362.0 413.5 360.6C413.2 359.2 415.6 357.8 415.3 356.2C414.9 354.6 412.8 354.5 411.8 352.7C410.7 351.0 409.7 349.6 410.0 347.5Z" fill="#727272" filter="url(#f2)"/>
<path d="M413.5 345.7C414.2 344.0 416.5 342.1 418.8 341.4C421.0 340.7 423.7 341.0 424.9 342.2C426.1 343.4 425.8 345.9 424.9 347.5C424.0 349.0 422.4 349.6 420.5 350.1C418.6 350.6 416.7 351.0 415.3 350.1C413.9 349.2 412.8 347.5 413.5 345.7Z" fill="#929292" filter="url(#f1)"/>
<circle cx="419.7" cy="344.8" r="2.8" fill="#9b9b9b" filter="url(#f1)"/>
<path d="M431.0 361.4C431.9 359.7 435.5 358.6 438.0 358.8C440.4 359.0 442.9 360.6 443.2 362.3C443.6 364.1 441.7 366.5 439.7 367.6C437.8 368.6 435.4 368.8 433.6 367.6C431.9 366.3 430.1 363.2 431.0 361.4Z" fill="#848484" filter="url(#f1)"/>
<path d="M436.2 373.7C437.3 372.6 442.5 371.7 445.0 371.9C447.4 372.1 448.5 373.3 448.5 374.5C448.5 375.8 446.7 377.5 445.0 378.0C443.2 378.6 441.5 378.0 439.7 377.2C438.0 376.3 435.2 374.7 436.2 373.7Z" fill="#565656" filter="url(#f1)"/>
<path d="M414.4 358.8C415.5 357.9 419.7 357.2 420.5 357.9C421.4 358.6 419.8 361.4 418.8 362.3C417.7 363.2 416.2 363.0 415.3 362.3C414.4 361.6 413.4 359.7 414.4 358.8Z" fill="#5f5f5f" filter="url(#f1)"/>
</g>
<clipPath id="b4"><path d="M437.1 401.6C437.8 399.7 439.9 398.5 442.4 397.2C444.8 396.0 446.7 396.6 449.3 395.5C452.0 394.5 453.5 391.7 455.5 392.0C457.4 392.4 457.2 396.2 459.0 397.2C460.7 398.3 463.7 396.4 464.2 397.2C464.7 398.1 461.7 399.3 461.6 401.6C461.4 403.9 462.6 406.2 463.3 408.6C464.0 411.0 465.4 412.1 465.1 413.8C464.7 415.6 463.0 415.9 461.6 417.3C460.2 418.7 459.3 420.5 458.1 420.8C456.9 421.2 455.8 420.5 455.5 419.1C455.1 417.7 457.4 414.5 456.3 413.8C455.3 413.1 452.5 414.9 450.2 415.6C447.9 416.3 446.6 418.0 445.0 417.3C443.4 416.6 443.6 414.2 442.4 412.1C441.1 410.0 439.9 409.0 438.9 406.9C437.8 404.8 436.4 403.5 437.1 401.6Z"/></clipPath>
<g clip-path="url(#b4)">
<path d="M437.1 401.6C437.8 399.7 439.9 398.5 442.4 397.2C444.8 396.0 446.7 396.6 449.3 395.5C452.0 394.5 453.5 391.7 455.5 392.0C457.4 392.4 457.2 396.2 459.0 397.2C460.7 398.3 463.7 396.4 464.2 397.2C464.7 398.1 461.7 399.3 461.6 401.6C461.4 403.9 462.6 406.2 463.3 408.6C464.0 411.0 465.4 412.1 465.1 413.8C464.7 415.6 463.0 415.9 461.6 417.3C460.2 418.7 459.3 420.5 458.1 420.8C456.9 421.2 455.8 420.5 455.5 419.1C455.1 417.7 457.4 414.5 456.3 413.8C455.3 413.1 452.5 414.9 450.2 415.6C447.9 416.3 446.6 418.0 445.0 417.3C443.4 416.6 443.6 414.2 442.4 412.1C441.1 410.0 439.9 409.0 438.9 406.9C437.8 404.8 436.4 403.5 437.1 401.6Z" fill="#5a5a5a"/>
<path d="M437.1 401.6C437.8 399.7 439.9 398.5 442.4 397.2C444.8 396.0 446.7 396.6 449.3 395.5C452.0 394.5 453.5 391.7 455.5 392.0C457.4 392.4 457.2 396.2 459.0 397.2C460.7 398.3 463.7 396.4 464.2 397.2C464.7 398.1 461.7 399.3 461.6 401.6C461.4 403.9 462.6 406.2 463.3 408.6C464.0 411.0 465.4 412.1 465.1 413.8C464.7 415.6 463.0 415.9 461.6 417.3C460.2 418.7 459.3 420.5 458.1 420.8C456.9 421.2 455.8 420.5 455.5 419.1C455.1 417.7 457.4 414.5 456.3 413.8C455.3 413.1 452.5 414.9 450.2 415.6C447.9 416.3 446.6 418.0 445.0 417.3C443.4 416.6 443.6 414.2 442.4 412.1C441.1 410.0 439.9 409.0 438.9 406.9C437.8 404.8 436.4 403.5 437.1 401.6Z" fill="#686868" filter="url(#f2)"/>
<path d="M445.0 401.6C446.2 400.0 449.5 399.0 452.0 399.0C454.4 399.0 456.3 400.0 457.2 401.6C458.1 403.2 457.7 405.3 456.3 406.9C454.9 408.4 452.3 409.5 450.2 409.5C448.1 409.5 446.9 408.4 445.9 406.9C444.8 405.3 443.8 403.2 445.0 401.6Z" fill="#767676" filter="url(#f1)"/>
<path d="M457.2 412.1C459.0 410.3 462.6 410.0 464.2 410.3C465.8 410.7 465.6 412.4 465.1 413.8C464.5 415.2 463.0 415.9 461.6 417.3C460.2 418.7 459.3 420.5 458.1 420.8C456.9 421.2 455.6 420.8 455.5 419.1C455.3 417.3 455.5 413.8 457.2 412.1Z" fill="#4c4c4c" filter="url(#f1)"/>
</g>
<clipPath id="b5"><path d="M405.7 415.6C405.9 414.7 408.9 411.5 410.0 410.3C411.2 409.2 415.8 404.6 417.0 404.2C418.3 403.9 420.9 406.2 422.3 406.9C423.7 407.6 430.7 410.5 431.0 411.2C431.4 411.9 426.8 413.4 425.8 413.8C424.7 414.3 421.2 415.1 420.5 415.6C419.8 416.1 418.3 418.6 418.8 419.1C419.3 419.6 424.5 420.7 425.8 420.8C427.0 421.0 430.7 420.4 431.0 420.8C431.4 421.3 430.0 424.5 429.3 425.2C428.6 425.9 425.2 427.3 424.0 427.8C422.8 428.3 418.3 430.5 417.0 430.4C415.8 430.3 413.2 427.1 411.8 426.9C410.4 426.8 403.8 428.9 403.1 428.7C402.4 428.5 403.9 425.9 404.8 425.2C405.7 424.5 410.9 422.3 411.8 421.7C412.7 421.1 414.0 419.3 413.5 419.1C413.1 418.8 408.2 419.4 407.4 419.1C406.6 418.7 405.4 416.5 405.7 415.6Z"/></clipPath>
<g clip-path="url(#b5)">
<path d="M405.7 415.6C405.9 414.7 408.9 411.5 410.0 410.3C411.2 409.2 415.8 404.6 417.0 404.2C418.3 403.9 420.9 406.2 422.3 406.9C423.7 407.6 430.7 410.5 431.0 411.2C431.4 411.9 426.8 413.4 425.8 413.8C424.7 414.3 421.2 415.1 420.5 415.6C419.8 416.1 418.3 418.6 418.8 419.1C419.3 419.6 424.5 420.7 425.8 420.8C427.0 421.0 430.7 420.4 431.0 420.8C431.4 421.3 430.0 424.5 429.3 425.2C428.6 425.9 425.2 427.3 424.0 427.8C422.8 428.3 418.3 430.5 417.0 430.4C415.8 430.3 413.2 427.1 411.8 426.9C410.4 426.8 403.8 428.9 403.1 428.7C402.4 428.5 403.9 425.9 404.8 425.2C405.7 424.5 410.9 422.3 411.8 421.7C412.7 421.1 414.0 419.3 413.5 419.1C413.1 418.8 408.2 419.4 407.4 419.1C406.6 418.7 405.4 416.5 405.7 415.6Z" fill="#565656"/>
<path d="M405.7 415.6C405.9 414.7 408.9 411.5 410.0 410.3C411.2 409.2 415.8 404.6 417.0 404.2C418.3 403.9 420.9 406.2 422.3 406.9C423.7 407.6 430.7 410.5 431.0 411.2C431.4 411.9 426.8 413.4 425.8 413.8C424.7 414.3 421.2 415.1 420.5 415.6C419.8 416.1 418.3 418.6 418.8 419.1C419.3 419.6 424.5 420.7 425.8 420.8C427.0 421.0 430.7 420.4 431.0 420.8C431.4 421.3 430.0 424.5 429.3 425.2C428.6 425.9 425.2 427.3 424.0 427.8C422.8 428.3 418.3 430.5 417.0 430.4C415.8 430.3 413.2 427.1 411.8 426.9C410.4 426.8 403.8 428.9 403.1 428.7C402.4 428.5 403.9 425.9 404.8 425.2C405.7 424.5 410.9 422.3 411.8 421.7C412.7 421.1 414.0 419.3 413.5 419.1C413.1 418.8 408.2 419.4 407.4 419.1C406.6 418.7 405.4 416.5 405.7 415.6Z" fill="#646464" filter="url(#f2)"/>
<path d="M410.0 413.8C411.1 412.4 414.6 410.7 417.0 410.3C419.5 410.0 422.3 411.0 422.3 412.1C422.3 413.1 419.1 414.5 417.0 415.6C414.9 416.6 413.2 417.7 411.8 417.3C410.4 417.0 409.0 415.2 410.0 413.8Z" fill="#727272" filter="url(#f1)"/>
<path d="M411.8 424.3C412.8 423.3 417.4 422.1 420.5 421.7C423.7 421.4 427.2 421.7 427.5 422.6C427.9 423.4 424.7 425.2 422.3 426.1C419.8 426.9 417.4 427.3 415.3 426.9C413.2 426.6 410.7 425.4 411.8 424.3Z" fill="#727272" filter="url(#f1)"/>
<circle cx="419.1" cy="409.1" r="1.7" fill="#4c4c4c" filter="url(#f1)"/>
</g>
<clipPath id="b6"><path d="M303.5 487.2C304.4 486.4 311.1 485.9 312.2 486.0C313.4 486.1 314.8 487.5 314.8 488.1C314.8 488.6 312.7 490.9 312.2 491.6C311.8 492.3 310.5 494.4 310.5 495.1C310.5 495.8 312.8 498.1 312.2 498.6C311.7 499.0 306.1 499.9 305.2 499.4C304.4 499.0 303.7 495.4 303.5 494.2C303.3 493.0 302.6 488.0 303.5 487.2Z"/></clipPath>
<g clip-path="url(#b6)">
<path d="M303.5 487.2C304.4 486.4 311.1 485.9 312.2 486.0C313.4 486.1 314.8 487.5 314.8 488.1C314.8 488.6 312.7 490.9 312.2 491.6C311.8 492.3 310.5 494.4 310.5 495.1C310.5 495.8 312.8 498.1 312.2 498.6C311.7 499.0 306.1 499.9 305.2 499.4C304.4 499.0 303.7 495.4 303.5 494.2C303.3 493.0 302.6 488.0 303.5 487.2Z" fill="#6d6d6d"/>
</g>
<clipPath id="b7"><path d="M211.4 464.9C211.8 464.3 215.8 463.3 216.6 462.3C217.4 461.4 218.6 456.3 219.2 455.3C219.8 454.3 221.4 452.5 222.7 452.2C224.0 451.9 231.1 451.9 232.3 452.2C233.5 452.5 234.9 454.3 234.9 455.3C234.9 456.3 232.2 461.5 232.3 462.3C232.4 463.1 235.5 462.6 235.8 463.2C236.2 463.8 238.2 467.9 235.8 468.4C233.4 469.0 214.7 469.1 212.2 468.8C209.8 468.4 210.9 465.6 211.4 464.9Z"/></clipPath>
<g clip-path="url(#b7)">
<path d="M211.4 464.9C211.8 464.3 215.8 463.3 216.6 462.3C217.4 461.4 218.6 456.3 219.2 455.3C219.8 454.3 221.4 452.5 222.7 452.2C224.0 451.9 231.1 451.9 232.3 452.2C233.5 452.5 234.9 454.3 234.9 455.3C234.9 456.3 232.2 461.5 232.3 462.3C232.4 463.1 235.5 462.6 235.8 463.2C236.2 463.8 238.2 467.9 235.8 468.4C233.4 469.0 214.7 469.1 212.2 468.8C209.8 468.4 210.9 465.6 211.4 464.9Z" fill="#808080"/>
<path d="M217.5 463.2C216.9 461.4 218.3 458.1 220.1 456.2C221.8 454.3 224.1 453.6 226.2 453.6C228.3 453.6 230.2 454.6 230.6 456.2C230.9 457.8 229.5 459.7 227.9 461.4C226.4 463.2 224.8 464.6 222.7 464.9C220.6 465.3 218.0 464.9 217.5 463.2Z" fill="#898989" filter="url(#f1)"/>
</g>
<clipPath id="b8"><path d="M264.6 455.3C265.2 454.3 270.0 454.0 270.7 453.6C271.4 453.2 271.0 451.5 271.6 451.3C272.2 451.1 276.2 450.6 276.9 451.3C277.5 452.1 277.0 457.9 277.7 458.8C278.4 459.7 283.1 459.4 283.8 460.0C284.6 460.7 285.2 464.2 285.6 464.9C286.0 465.7 288.0 466.8 288.2 467.6C288.4 468.3 288.1 472.1 287.3 472.8C286.6 473.5 281.1 474.0 280.3 474.5C279.6 475.1 280.1 478.2 279.5 478.6C278.9 479.0 274.8 479.0 274.2 478.6C273.7 478.1 274.5 474.3 274.2 473.7C274.0 473.0 272.1 472.8 272.0 471.9C271.9 471.0 273.0 466.0 273.4 464.9C273.7 463.9 275.3 461.9 275.1 461.4C274.9 461.0 272.1 460.4 271.6 460.6C271.2 460.8 271.4 463.2 270.7 463.5C270.0 463.8 265.2 464.4 264.6 463.5C264.0 462.7 264.0 456.3 264.6 455.3Z"/></clipPath>
<g clip-path="url(#b8)">
<path d="M264.6 455.3C265.2 454.3 270.0 454.0 270.7 453.6C271.4 453.2 271.0 451.5 271.6 451.3C272.2 451.1 276.2 450.6 276.9 451.3C277.5 452.1 277.0 457.9 277.7 458.8C278.4 459.7 283.1 459.4 283.8 460.0C284.6 460.7 285.2 464.2 285.6 464.9C286.0 465.7 288.0 466.8 288.2 467.6C288.4 468.3 288.1 472.1 287.3 472.8C286.6 473.5 281.1 474.0 280.3 474.5C279.6 475.1 280.1 478.2 279.5 478.6C278.9 479.0 274.8 479.0 274.2 478.6C273.7 478.1 274.5 474.3 274.2 473.7C274.0 473.0 272.1 472.8 272.0 471.9C271.9 471.0 273.0 466.0 273.4 464.9C273.7 463.9 275.3 461.9 275.1 461.4C274.9 461.0 272.1 460.4 271.6 460.6C271.2 460.8 271.4 463.2 270.7 463.5C270.0 463.8 265.2 464.4 264.6 463.5C264.0 462.7 264.0 456.3 264.6 455.3Z" fill="#6d6d6d"/>
<path d="M264.6 455.3C265.2 454.3 270.0 454.0 270.7 453.6C271.4 453.2 271.0 451.5 271.6 451.3C272.2 451.1 276.2 450.6 276.9 451.3C277.5 452.1 277.0 457.9 277.7 458.8C278.4 459.7 283.1 459.4 283.8 460.0C284.6 460.7 285.2 464.2 285.6 464.9C286.0 465.7 288.0 466.8 288.2 467.6C288.4 468.3 288.1 472.1 287.3 472.8C286.6 473.5 281.1 474.0 280.3 474.5C279.6 475.1 280.1 478.2 279.5 478.6C278.9 479.0 274.8 479.0 274.2 478.6C273.7 478.1 274.5 474.3 274.2 473.7C274.0 473.0 272.1 472.8 272.0 471.9C271.9 471.0 273.0 466.0 273.4 464.9C273.7 463.9 275.3 461.9 275.1 461.4C274.9 461.0 272.1 460.4 271.6 460.6C271.2 460.8 271.4 463.2 270.7 463.5C270.0 463.8 265.2 464.4 264.6 463.5C264.0 462.7 264.0 456.3 264.6 455.3Z" fill="#767676" filter="url(#f2)"/>
<path d="M266.4 456.2C267.2 455.0 270.6 454.3 271.6 455.3C272.7 456.4 272.5 460.2 271.6 461.4C270.7 462.7 268.3 462.5 267.2 461.4C266.2 460.4 265.5 457.4 266.4 456.2Z" fill="#808080" filter="url(#f1)"/>
<path d="M276.9 463.2C277.9 461.6 281.6 461.8 283.0 463.2C284.4 464.6 284.9 468.6 283.8 470.2C282.8 471.7 279.1 472.4 277.7 471.0C276.3 469.7 275.8 464.8 276.9 463.2Z" fill="#7b7b7b" filter="url(#f1)"/>
<circle cx="274.2" cy="453.6" r="2.1" fill="#6d6d6d" filter="url(#f1)"/>
</g>
<clipPath id="b9"><path d="M303.1 487.6C304.0 486.3 312.3 485.7 313.5 485.9C314.7 486.1 315.3 488.9 314.9 489.4C314.6 489.9 310.4 490.3 310.0 491.1C309.6 491.9 311.1 496.4 310.9 497.2C310.7 498.1 309.0 499.6 308.3 499.9C307.6 500.1 304.8 500.7 304.3 499.5C303.8 498.3 302.1 489.0 303.1 487.6Z"/></clipPath>
<g clip-path="url(#b9)">
<path d="M303.1 487.6C304.0 486.3 312.3 485.7 313.5 485.9C314.7 486.1 315.3 488.9 314.9 489.4C314.6 489.9 310.4 490.3 310.0 491.1C309.6 491.9 311.1 496.4 310.9 497.2C310.7 498.1 309.0 499.6 308.3 499.9C307.6 500.1 304.8 500.7 304.3 499.5C303.8 498.3 302.1 489.0 303.1 487.6Z" fill="#6d6d6d"/>
</g>
<clipPath id="b10"><path d="M367.5 501.4C368.2 499.8 370.6 498.8 372.7 497.9C374.8 497.1 380.6 496.0 383.2 495.3C385.7 494.6 389.7 493.1 391.9 492.7C394.1 492.3 398.9 491.7 399.8 492.4C400.7 493.1 398.3 497.0 398.9 497.9C399.5 498.9 403.0 498.9 404.1 499.7C405.3 500.5 407.1 502.8 407.6 504.1C408.2 505.3 408.0 508.4 408.5 509.3C409.0 510.2 411.4 510.5 411.1 511.0C410.9 511.6 407.5 512.7 406.8 513.7C406.1 514.6 406.6 517.3 405.9 518.0C405.2 518.7 402.5 518.3 401.5 518.9C400.6 519.5 400.0 521.2 398.9 522.4C397.9 523.6 394.6 526.2 393.7 527.6C392.7 529.0 392.7 531.5 391.9 532.9C391.1 534.3 387.7 536.8 387.6 538.1C387.4 539.4 390.0 541.9 391.0 542.5C392.1 543.1 394.9 541.9 395.4 542.5C395.9 543.1 395.4 545.8 394.5 546.9C393.7 547.9 390.5 550.1 389.3 550.3C388.1 550.6 386.2 549.4 385.8 548.6C385.5 547.8 387.1 545.3 386.7 544.2C386.2 543.2 383.7 541.4 382.3 540.7C380.9 540.0 377.0 540.5 376.2 539.0C375.4 537.5 376.6 531.6 376.2 529.4C375.9 527.2 374.3 523.6 373.6 522.4C372.9 521.2 371.5 520.4 371.0 520.7C370.4 520.9 370.1 524.0 369.2 524.1C368.3 524.3 364.0 522.5 364.0 521.5C364.0 520.6 368.7 518.7 369.2 517.2C369.7 515.6 367.7 512.3 367.5 510.2C367.2 508.1 366.8 503.1 367.5 501.4Z"/></clipPath>
<g clip-path="url(#b10)">
<path d="M367.5 501.4C368.2 499.8 370.6 498.8 372.7 497.9C374.8 497.1 380.6 496.0 383.2 495.3C385.7 494.6 389.7 493.1 391.9 492.7C394.1 492.3 398.9 491.7 399.8 492.4C400.7 493.1 398.3 497.0 398.9 497.9C399.5 498.9 403.0 498.9 404.1 499.7C405.3 500.5 407.1 502.8 407.6 504.1C408.2 505.3 408.0 508.4 408.5 509.3C409.0 510.2 411.4 510.5 411.1 511.0C410.9 511.6 407.5 512.7 406.8 513.7C406.1 514.6 406.6 517.3 405.9 518.0C405.2 518.7 402.5 518.3 401.5 518.9C400.6 519.5 400.0 521.2 398.9 522.4C397.9 523.6 394.6 526.2 393.7 527.6C392.7 529.0 392.7 531.5 391.9 532.9C391.1 534.3 387.7 536.8 387.6 538.1C387.4 539.4 390.0 541.9 391.0 542.5C392.1 543.1 394.9 541.9 395.4 542.5C395.9 543.1 395.4 545.8 394.5 546.9C393.7 547.9 390.5 550.1 389.3 550.3C388.1 550.6 386.2 549.4 385.8 548.6C385.5 547.8 387.1 545.3 386.7 544.2C386.2 543.2 383.7 541.4 382.3 540.7C380.9 540.0 377.0 540.5 376.2 539.0C375.4 537.5 376.6 531.6 376.2 529.4C375.9 527.2 374.3 523.6 373.6 522.4C372.9 521.2 371.5 520.4 371.0 520.7C370.4 520.9 370.1 524.0 369.2 524.1C368.3 524.3 364.0 522.5 364.0 521.5C364.0 520.6 368.7 518.7 369.2 517.2C369.7 515.6 367.7 512.3 367.5 510.2C367.2 508.1 366.8 503.1 367.5 501.4Z" fill="#5f5f5f"/>
<path d="M367.5 501.4C368.2 499.8 370.6 498.8 372.7 497.9C374.8 497.1 380.6 496.0 383.2 495.3C385.7 494.6 389.7 493.1 391.9 492.7C394.1 492.3 398.9 491.7 399.8 492.4C400.7 493.1 398.3 497.0 398.9 497.9C399.5 498.9 403.0 498.9 404.1 499.7C405.3 500.5 407.1 502.8 407.6 504.1C408.2 505.3 408.0 508.4 408.5 509.3C409.0 510.2 411.4 510.5 411.1 511.0C410.9 511.6 407.5 512.7 406.8 513.7C406.1 514.6 406.6 517.3 405.9 518.0C405.2 518.7 402.5 518.3 401.5 518.9C400.6 519.5 400.0 521.2 398.9 522.4C397.9 523.6 394.6 526.2 393.7 527.6C392.7 529.0 392.7 531.5 391.9 532.9C391.1 534.3 387.7 536.8 387.6 538.1C387.4 539.4 390.0 541.9 391.0 542.5C392.1 543.1 394.9 541.9 395.4 542.5C395.9 543.1 395.4 545.8 394.5 546.9C393.7 547.9 390.5 550.1 389.3 550.3C388.1 550.6 386.2 549.4 385.8 548.6C385.5 547.8 387.1 545.3 386.7 544.2C386.2 543.2 383.7 541.4 382.3 540.7C380.9 540.0 377.0 540.5 376.2 539.0C375.4 537.5 376.6 531.6 376.2 529.4C375.9 527.2 374.3 523.6 373.6 522.4C372.9 521.2 371.5 520.4 371.0 520.7C370.4 520.9 370.1 524.0 369.2 524.1C368.3 524.3 364.0 522.5 364.0 521.5C364.0 520.6 368.7 518.7 369.2 517.2C369.7 515.6 367.7 512.3 367.5 510.2C367.2 508.1 366.8 503.1 367.5 501.4Z" fill="#6d6d6d" filter="url(#f2)"/>
<path d="M371.0 503.2C373.2 500.4 378.3 499.3 381.4 499.7C384.6 500.0 386.3 501.8 386.7 504.9C387.0 508.1 385.3 512.6 383.2 515.4C381.1 518.2 378.8 519.3 376.2 518.9C373.6 518.6 371.1 516.8 370.1 513.7C369.0 510.5 368.7 506.0 371.0 503.2Z" fill="#767676" filter="url(#f1)"/>
<path d="M390.2 494.5C391.9 492.9 397.9 491.8 399.8 492.7C401.7 493.6 398.6 497.1 399.8 498.8C401.0 500.6 404.1 499.3 405.9 501.4C407.6 503.5 408.9 506.9 408.5 509.3C408.2 511.7 406.1 513.1 404.1 513.7C402.2 514.2 401.0 513.3 398.9 511.9C396.8 510.5 395.2 509.0 393.7 506.7C392.1 504.4 391.7 503.0 391.0 500.6C390.3 498.1 388.4 496.0 390.2 494.5Z" fill="#565656" filter="url(#f2)"/>
<path d="M396.3 502.3C397.2 501.1 400.0 500.0 401.5 500.6C403.1 501.1 404.3 503.4 404.1 504.9C404.0 506.5 402.1 508.1 400.7 508.4C399.3 508.8 398.0 507.9 397.2 506.7C396.3 505.5 395.4 503.5 396.3 502.3Z" fill="#4c4c4c" filter="url(#f1)"/>
<path d="M377.9 522.4C380.0 519.3 385.6 519.6 388.4 520.7C391.2 521.7 391.6 524.8 391.9 527.6C392.3 530.4 391.6 532.4 390.2 534.6C388.8 536.9 387.4 538.6 384.9 539.0C382.5 539.3 379.3 539.7 377.9 536.4C376.6 533.1 375.9 525.5 377.9 522.4Z" fill="#7b7b7b" filter="url(#f1)"/>
<path d="M382.3 527.6C382.8 526.4 384.4 525.5 385.8 525.9C387.2 526.2 389.1 528.0 389.3 529.4C389.5 530.8 387.9 532.4 386.7 532.9C385.5 533.4 384.1 533.1 383.2 532.0C382.3 531.0 381.8 528.9 382.3 527.6Z" fill="#979797" filter="url(#f1)"/>
<circle cx="383.2" cy="535.5" r="1.6" fill="#8d8d8d" filter="url(#f1)"/>
<path d="M385.8 545.1C386.3 543.5 390.0 542.8 391.9 542.5C393.8 542.1 395.1 542.3 395.4 543.4C395.8 544.4 394.9 546.3 393.7 547.7C392.4 549.1 390.9 550.9 389.3 550.3C387.7 549.8 385.3 546.7 385.8 545.1Z" fill="#5a5a5a" filter="url(#f1)"/>
</g>
<clipPath id="b11"><path d="M405.9 525.9C405.5 525.3 407.9 522.0 408.5 521.5C409.1 521.0 411.5 520.7 412.0 521.0C412.5 521.4 413.8 524.4 413.8 525.0C413.8 525.7 412.8 527.6 412.0 527.6C411.2 527.7 406.2 526.5 405.9 525.9Z"/></clipPath>
<g clip-path="url(#b11)">
<path d="M405.9 525.9C405.5 525.3 407.9 522.0 408.5 521.5C409.1 521.0 411.5 520.7 412.0 521.0C412.5 521.4 413.8 524.4 413.8 525.0C413.8 525.7 412.8 527.6 412.0 527.6C411.2 527.7 406.2 526.5 405.9 525.9Z" fill="#5f5f5f"/>
</g>
<clipPath id="b12"><path d="M376.2 559.1C376.1 558.7 378.2 556.6 378.8 556.5C379.4 556.4 381.8 557.9 382.3 558.2C382.8 558.5 384.3 559.3 384.1 559.4C383.8 559.6 380.5 560.0 379.7 560.0C378.9 559.9 376.3 559.4 376.2 559.1Z"/></clipPath>
<g clip-path="url(#b12)">
<path d="M376.2 559.1C376.1 558.7 378.2 556.6 378.8 556.5C379.4 556.4 381.8 557.9 382.3 558.2C382.8 558.5 384.3 559.3 384.1 559.4C383.8 559.6 380.5 560.0 379.7 560.0C378.9 559.9 376.3 559.4 376.2 559.1Z" fill="#5a5a5a"/>
</g>
<clipPath id="b13"><path d="M388.4 563.4C388.4 562.7 390.4 557.2 391.0 556.5C391.7 555.7 393.9 555.9 394.5 556.1C395.2 556.4 397.0 558.6 397.2 559.1C397.3 559.6 396.1 561.2 395.8 561.2C395.4 561.1 393.8 558.4 393.3 558.7C392.8 559.0 391.5 563.9 391.0 564.3C390.6 564.8 388.4 564.2 388.4 563.4Z"/></clipPath>
<g clip-path="url(#b13)">
<path d="M388.4 563.4C388.4 562.7 390.4 557.2 391.0 556.5C391.7 555.7 393.9 555.9 394.5 556.1C395.2 556.4 397.0 558.6 397.2 559.1C397.3 559.6 396.1 561.2 395.8 561.2C395.4 561.1 393.8 558.4 393.3 558.7C392.8 559.0 391.5 563.9 391.0 564.3C390.6 564.8 388.4 564.2 388.4 563.4Z" fill="#5a5a5a"/>
</g>
<clipPath id="b14"><path d="M467.9 511.0C467.7 510.3 468.7 505.0 469.7 504.1C470.6 503.2 476.9 501.9 477.5 502.0C478.1 502.1 476.3 504.4 475.8 504.9C475.2 505.5 472.7 506.9 472.3 507.6C471.8 508.2 471.8 511.2 471.4 511.6C471.0 511.9 468.1 511.8 467.9 511.0Z"/></clipPath>
<g clip-path="url(#b14)">
<path d="M467.9 511.0C467.7 510.3 468.7 505.0 469.7 504.1C470.6 503.2 476.9 501.9 477.5 502.0C478.1 502.1 476.3 504.4 475.8 504.9C475.2 505.5 472.7 506.9 472.3 507.6C471.8 508.2 471.8 511.2 471.4 511.6C471.0 511.9 468.1 511.8 467.9 511.0Z" fill="#484848"/>
<path d="M469.7 504.9C470.7 504.1 475.6 502.3 476.6 502.3C477.7 502.3 475.9 504.1 474.9 504.9C473.8 505.8 472.4 506.7 471.4 506.7C470.3 506.7 468.6 505.8 469.7 504.9Z" fill="#3a3a3a" filter="url(#f1)"/>
</g>
<clipPath id="b15"><path d="M276.9 578.9C277.4 577.2 282.8 572.6 284.8 571.0C286.8 569.5 289.9 567.7 291.8 567.6C293.7 567.4 296.9 569.9 298.8 570.2C300.6 570.4 304.1 568.8 305.8 569.3C307.4 569.8 310.1 572.5 311.0 573.7C311.9 574.8 312.3 578.4 312.8 578.0C313.2 577.7 313.8 572.4 314.5 571.0C315.2 569.7 317.1 567.4 318.0 567.6C318.9 567.7 320.1 571.9 321.5 571.9C322.9 571.9 327.0 568.6 328.5 567.6C330.0 566.5 332.8 564.9 332.8 564.1C332.8 563.2 329.5 562.3 328.5 561.4C327.4 560.6 325.1 559.3 325.0 557.9C324.9 556.6 327.8 552.2 327.6 551.0C327.4 549.7 323.9 549.4 323.2 548.3C322.5 547.3 322.0 543.9 322.4 543.1C322.7 542.3 325.2 541.8 325.9 542.2C326.6 542.7 326.6 545.8 327.6 546.6C328.6 547.4 332.2 548.2 333.7 548.3C335.2 548.5 338.4 546.7 339.0 547.5C339.5 548.3 338.3 553.1 338.1 554.5C337.8 555.9 337.0 557.0 337.2 557.9C337.4 558.9 338.9 561.1 339.8 561.4C340.8 561.8 343.5 561.3 344.2 560.6C344.9 559.9 344.3 557.1 345.1 556.2C345.9 555.3 349.0 553.9 350.3 553.6C351.6 553.2 353.7 552.8 354.7 553.6C355.6 554.4 356.9 557.8 357.3 559.7C357.6 561.6 356.6 567.0 357.3 567.6C358.0 568.1 361.7 564.2 362.5 564.1C363.3 563.9 363.9 565.7 363.4 566.7C362.9 567.6 359.7 569.7 359.0 571.0C358.3 572.4 357.9 575.6 358.2 577.2C358.4 578.7 360.6 580.7 360.8 582.4C361.0 584.1 359.6 588.3 359.9 590.3C360.3 592.2 362.6 595.7 363.4 597.2C364.2 598.8 365.9 600.3 366.0 601.6C366.1 602.9 364.4 605.3 364.3 606.9C364.2 608.4 365.7 611.8 365.2 613.0C364.6 614.1 361.3 615.5 359.9 615.6C358.5 615.7 355.6 613.4 354.7 613.8C353.7 614.3 352.7 617.7 352.9 619.1C353.2 620.5 355.3 623.4 356.4 624.3C357.6 625.3 360.7 625.1 361.7 626.1C362.6 627.0 363.4 630.0 363.4 631.3C363.4 632.6 362.5 635.0 361.7 635.7C360.8 636.4 358.2 637.1 357.3 636.6C356.4 636.0 355.5 632.5 354.7 631.3C353.9 630.1 352.3 627.9 351.2 627.8C350.0 627.7 347.3 629.5 345.9 630.4C344.5 631.4 342.3 634.2 340.7 634.8C339.1 635.4 335.1 634.2 333.7 634.8C332.3 635.4 331.4 638.2 330.2 639.2C329.1 640.1 326.0 642.1 325.0 641.8C323.9 641.4 323.3 637.5 322.4 636.6C321.4 635.6 319.3 634.9 318.0 634.8C316.7 634.7 313.9 636.1 312.8 635.7C311.6 635.2 310.7 632.0 309.3 631.3C307.9 630.6 303.9 630.6 302.3 630.4C300.6 630.3 298.1 631.1 297.0 630.4C296.0 629.7 295.5 626.2 294.4 625.2C293.4 624.1 290.0 623.4 289.2 622.6C288.4 621.8 287.9 620.0 288.3 619.1C288.6 618.2 291.7 616.9 291.8 615.6C291.9 614.3 289.5 611.3 289.2 609.5C288.8 607.6 289.4 603.4 289.2 601.6C288.9 599.9 288.0 598.0 287.4 596.4C286.8 594.7 285.6 591.0 284.8 589.4C284.0 587.8 282.4 585.5 281.3 584.1C280.3 582.8 276.5 580.7 276.9 578.9Z"/></clipPath>
<g clip-path="url(#b15)">
<path d="M276.9 578.9C277.4 577.2 282.8 572.6 284.8 571.0C286.8 569.5 289.9 567.7 291.8 567.6C293.7 567.4 296.9 569.9 298.8 570.2C300.6 570.4 304.1 568.8 305.8 569.3C307.4 569.8 310.1 572.5 311.0 573.7C311.9 574.8 312.3 578.4 312.8 578.0C313.2 577.7 313.8 572.4 314.5 571.0C315.2 569.7 317.1 567.4 318.0 567.6C318.9 567.7 320.1 571.9 321.5 571.9C322.9 571.9 327.0 568.6 328.5 567.6C330.0 566.5 332.8 564.9 332.8 564.1C332.8 563.2 329.5 562.3 328.5 561.4C327.4 560.6 325.1 559.3 325.0 557.9C324.9 556.6 327.8 552.2 327.6 551.0C327.4 549.7 323.9 549.4 323.2 548.3C322.5 547.3 322.0 543.9 322.4 543.1C322.7 542.3 325.2 541.8 325.9 542.2C326.6 542.7 326.6 545.8 327.6 546.6C328.6 547.4 332.2 548.2 333.7 548.3C335.2 548.5 338.4 546.7 339.0 547.5C339.5 548.3 338.3 553.1 338.1 554.5C337.8 555.9 337.0 557.0 337.2 557.9C337.4 558.9 338.9 561.1 339.8 561.4C340.8 561.8 343.5 561.3 344.2 560.6C344.9 559.9 344.3 557.1 345.1 556.2C345.9 555.3 349.0 553.9 350.3 553.6C351.6 553.2 353.7 552.8 354.7 553.6C355.6 554.4 356.9 557.8 357.3 559.7C357.6 561.6 356.6 567.0 357.3 567.6C358.0 568.1 361.7 564.2 362.5 564.1C363.3 563.9 363.9 565.7 363.4 566.7C362.9 567.6 359.7 569.7 359.0 571.0C358.3 572.4 357.9 575.6 358.2 577.2C358.4 578.7 360.6 580.7 360.8 582.4C361.0 584.1 359.6 588.3 359.9 590.3C360.3 592.2 362.6 595.7 363.4 597.2C364.2 598.8 365.9 600.3 366.0 601.6C366.1 602.9 364.4 605.3 364.3 606.9C364.2 608.4 365.7 611.8 365.2 613.0C364.6 614.1 361.3 615.5 359.9 615.6C358.5 615.7 355.6 613.4 354.7 613.8C353.7 614.3 352.7 617.7 352.9 619.1C353.2 620.5 355.3 623.4 356.4 624.3C357.6 625.3 360.7 625.1 361.7 626.1C362.6 627.0 363.4 630.0 363.4 631.3C363.4 632.6 362.5 635.0 361.7 635.7C360.8 636.4 358.2 637.1 357.3 636.6C356.4 636.0 355.5 632.5 354.7 631.3C353.9 630.1 352.3 627.9 351.2 627.8C350.0 627.7 347.3 629.5 345.9 630.4C344.5 631.4 342.3 634.2 340.7 634.8C339.1 635.4 335.1 634.2 333.7 634.8C332.3 635.4 331.4 638.2 330.2 639.2C329.1 640.1 326.0 642.1 325.0 641.8C323.9 641.4 323.3 637.5 322.4 636.6C321.4 635.6 319.3 634.9 318.0 634.8C316.7 634.7 313.9 636.1 312.8 635.7C311.6 635.2 310.7 632.0 309.3 631.3C307.9 630.6 303.9 630.6 302.3 630.4C300.6 630.3 298.1 631.1 297.0 630.4C296.0 629.7 295.5 626.2 294.4 625.2C293.4 624.1 290.0 623.4 289.2 622.6C288.4 621.8 287.9 620.0 288.3 619.1C288.6 618.2 291.7 616.9 291.8 615.6C291.9 614.3 289.5 611.3 289.2 609.5C288.8 607.6 289.4 603.4 289.2 601.6C288.9 599.9 288.0 598.0 287.4 596.4C286.8 594.7 285.6 591.0 284.8 589.4C284.0 587.8 282.4 585.5 281.3 584.1C280.3 582.8 276.5 580.7 276.9 578.9Z" fill="#6d6d6d"/>
<path d="M276.9 578.9C277.4 577.2 282.8 572.6 284.8 571.0C286.8 569.5 289.9 567.7 291.8 567.6C293.7 567.4 296.9 569.9 298.8 570.2C300.6 570.4 304.1 568.8 305.8 569.3C307.4 569.8 310.1 572.5 311.0 573.7C311.9 574.8 312.3 578.4 312.8 578.0C313.2 577.7 313.8 572.4 314.5 571.0C315.2 569.7 317.1 567.4 318.0 567.6C318.9 567.7 320.1 571.9 321.5 571.9C322.9 571.9 327.0 568.6 328.5 567.6C330.0 566.5 332.8 564.9 332.8 564.1C332.8 563.2 329.5 562.3 328.5 561.4C327.4 560.6 325.1 559.3 325.0 557.9C324.9 556.6 327.8 552.2 327.6 551.0C327.4 549.7 323.9 549.4 323.2 548.3C322.5 547.3 322.0 543.9 322.4 543.1C322.7 542.3 325.2 541.8 325.9 542.2C326.6 542.7 326.6 545.8 327.6 546.6C328.6 547.4 332.2 548.2 333.7 548.3C335.2 548.5 338.4 546.7 339.0 547.5C339.5 548.3 338.3 553.1 338.1 554.5C337.8 555.9 337.0 557.0 337.2 557.9C337.4 558.9 338.9 561.1 339.8 561.4C340.8 561.8 343.5 561.3 344.2 560.6C344.9 559.9 344.3 557.1 345.1 556.2C345.9 555.3 349.0 553.9 350.3 553.6C351.6 553.2 353.7 552.8 354.7 553.6C355.6 554.4 356.9 557.8 357.3 559.7C357.6 561.6 356.6 567.0 357.3 567.6C358.0 568.1 361.7 564.2 362.5 564.1C363.3 563.9 363.9 565.7 363.4 566.7C362.9 567.6 359.7 569.7 359.0 571.0C358.3 572.4 357.9 575.6 358.2 577.2C358.4 578.7 360.6 580.7 360.8 582.4C361.0 584.1 359.6 588.3 359.9 590.3C360.3 592.2 362.6 595.7 363.4 597.2C364.2 598.8 365.9 600.3 366.0 601.6C366.1 602.9 364.4 605.3 364.3 606.9C364.2 608.4 365.7 611.8 365.2 613.0C364.6 614.1 361.3 615.5 359.9 615.6C358.5 615.7 355.6 613.4 354.7 613.8C353.7 614.3 352.7 617.7 352.9 619.1C353.2 620.5 355.3 623.4 356.4 624.3C357.6 625.3 360.7 625.1 361.7 626.1C362.6 627.0 363.4 630.0 363.4 631.3C363.4 632.6 362.5 635.0 361.7 635.7C360.8 636.4 358.2 637.1 357.3 636.6C356.4 636.0 355.5 632.5 354.7 631.3C353.9 630.1 352.3 627.9 351.2 627.8C350.0 627.7 347.3 629.5 345.9 630.4C344.5 631.4 342.3 634.2 340.7 634.8C339.1 635.4 335.1 634.2 333.7 634.8C332.3 635.4 331.4 638.2 330.2 639.2C329.1 640.1 326.0 642.1 325.0 641.8C323.9 641.4 323.3 637.5 322.4 636.6C321.4 635.6 319.3 634.9 318.0 634.8C316.7 634.7 313.9 636.1 312.8 635.7C311.6 635.2 310.7 632.0 309.3 631.3C307.9 630.6 303.9 630.6 302.3 630.4C300.6 630.3 298.1 631.1 297.0 630.4C296.0 629.7 295.5 626.2 294.4 625.2C293.4 624.1 290.0 623.4 289.2 622.6C288.4 621.8 287.9 620.0 288.3 619.1C288.6 618.2 291.7 616.9 291.8 615.6C291.9 614.3 289.5 611.3 289.2 609.5C288.8 607.6 289.4 603.4 289.2 601.6C288.9 599.9 288.0 598.0 287.4 596.4C286.8 594.7 285.6 591.0 284.8 589.4C284.0 587.8 282.4 585.5 281.3 584.1C280.3 582.8 276.5 580.7 276.9 578.9Z" fill="#767676" filter="url(#f2)"/>
<path d="M283.1 578.9C284.1 576.1 287.9 574.4 291.8 573.7C295.6 573.0 299.1 573.7 302.3 575.4C305.4 577.2 305.8 579.6 307.5 582.4C309.3 585.2 308.6 588.3 311.0 589.4C313.4 590.4 316.2 588.7 319.7 587.6C323.2 586.6 325.0 585.5 328.5 584.1C332.0 582.8 334.4 582.4 337.2 580.7C340.0 578.9 340.0 577.5 342.4 575.4C344.9 573.3 347.0 570.5 349.4 570.2C351.9 569.8 353.3 571.2 354.7 573.7C356.1 576.1 355.7 577.9 356.4 582.4C357.1 586.9 357.1 592.2 358.2 596.4C359.2 600.6 361.7 600.6 361.7 603.4C361.7 606.2 360.3 608.3 358.2 610.3C356.1 612.4 353.3 611.4 351.2 613.8C349.1 616.3 350.5 619.8 347.7 622.6C344.9 625.4 341.4 626.4 337.2 627.8C333.0 629.2 330.9 629.2 326.7 629.6C322.5 629.9 320.4 630.3 316.2 629.6C312.1 628.9 309.6 627.1 305.8 626.1C301.9 625.0 299.5 626.1 297.0 624.3C294.6 622.6 294.6 620.8 293.5 617.3C292.5 613.8 292.5 611.0 291.8 606.9C291.1 602.7 291.1 600.2 290.0 596.4C289.0 592.5 287.9 591.1 286.6 587.6C285.2 584.1 282.0 581.7 283.1 578.9Z" fill="#898989" filter="url(#f2)"/>
<path d="M293.5 580.7C295.6 579.6 299.8 580.3 302.3 582.4C304.7 584.5 303.7 589.0 305.8 591.1C307.9 593.2 309.3 593.1 312.8 592.9C316.2 592.7 319.0 591.7 323.2 590.3C327.4 588.9 329.9 587.5 333.7 585.9C337.6 584.3 339.0 582.1 342.4 582.4C345.9 582.8 348.4 584.8 351.2 587.6C354.0 590.4 355.0 593.2 356.4 596.4C357.8 599.5 359.2 600.9 358.2 603.4C357.1 605.8 353.6 606.2 351.2 608.6C348.7 611.0 348.7 613.1 345.9 615.6C343.1 618.0 340.7 620.1 337.2 620.8C333.7 621.5 332.0 619.8 328.5 619.1C325.0 618.4 322.9 617.0 319.7 617.3C316.6 617.7 315.5 619.4 312.8 620.8C310.0 622.2 308.2 623.6 305.8 624.3C303.3 625.0 302.3 625.7 300.5 624.3C298.8 622.9 298.1 620.8 297.0 617.3C296.0 613.8 296.0 611.0 295.3 606.9C294.6 602.7 294.2 600.2 293.5 596.4C292.8 592.5 291.8 590.8 291.8 587.6C291.8 584.5 291.4 581.7 293.5 580.7Z" fill="#979797" filter="url(#f2)"/>
<path d="M298.8 606.9C300.5 603.0 305.1 600.6 309.3 598.1C313.4 595.7 315.5 596.0 319.7 594.6C323.9 593.2 326.0 591.8 330.2 591.1C334.4 590.4 336.9 590.1 340.7 591.1C344.5 592.2 347.0 594.3 349.4 596.4C351.9 598.5 353.6 599.5 352.9 601.6C352.2 603.7 349.1 605.1 345.9 606.9C342.8 608.6 340.7 609.3 337.2 610.3C333.7 611.4 332.0 611.7 328.5 612.1C325.0 612.4 322.9 611.0 319.7 612.1C316.6 613.1 315.5 615.6 312.8 617.3C310.0 619.1 308.2 620.8 305.8 620.8C303.3 620.8 301.9 620.1 300.5 617.3C299.1 614.5 297.0 610.7 298.8 606.9Z" fill="#a0a0a0" filter="url(#f2)"/>
<path d="M310.1 585.9C311.5 584.3 315.7 583.4 319.7 582.4C323.8 581.4 326.0 581.9 330.2 580.7C334.4 579.4 338.1 576.6 340.7 576.3C343.3 575.9 344.7 577.3 343.3 578.9C341.9 580.5 338.1 582.4 333.7 584.1C329.3 585.9 325.7 586.4 321.5 587.6C317.3 588.9 315.0 590.6 312.8 590.3C310.5 589.9 308.7 587.5 310.1 585.9Z" fill="#808080" filter="url(#f1)"/>
<path d="M328.5 549.2C330.0 545.9 336.2 546.6 338.1 548.3C340.0 550.1 336.9 555.3 338.1 557.9C339.3 560.6 340.9 562.1 344.2 561.4C347.5 560.7 352.2 553.4 354.7 554.5C357.1 555.5 357.8 563.9 356.4 566.7C355.0 569.5 351.5 567.7 347.7 568.4C343.8 569.1 340.7 570.9 337.2 570.2C333.7 569.5 332.0 569.1 330.2 564.9C328.5 560.7 326.9 552.5 328.5 549.2Z" fill="#6d6d6d" filter="url(#f2)"/>
<circle cx="334.6" cy="599.0" r="4.5" fill="#aeaeae" filter="url(#f1)"/>
<circle cx="334.6" cy="599.5" r="1.7" fill="#c0c0c0" filter="url(#f1)"/>
<circle cx="349.4" cy="598.1" r="2.4" fill="#a9a9a9" filter="url(#f1)"/>
<circle cx="305.8" cy="611.7" r="4.2" fill="#aeaeae" filter="url(#f1)"/>
<circle cx="305.8" cy="611.7" r="2.3" fill="#c0c0c0" filter="url(#f0)"/>
</g>
<clipPath id="b16"><path d="M232.4 590.3C232.5 588.2 233.4 585.3 234.1 584.1C234.8 583.0 235.5 582.0 237.6 581.9C239.7 581.8 248.0 582.5 249.9 583.3C251.7 584.0 250.8 586.6 251.6 587.6C252.4 588.7 255.5 590.0 256.0 591.1C256.4 592.3 254.6 595.1 255.1 596.4C255.6 597.7 259.8 599.6 260.0 600.7C260.2 601.9 257.3 603.7 256.9 605.1C256.4 606.5 256.2 609.4 256.9 611.2C257.6 613.1 260.7 617.1 262.1 619.1C263.5 621.1 266.6 624.6 267.3 626.1C268.0 627.6 268.0 629.4 267.3 630.4C266.6 631.5 263.4 633.7 262.1 633.9C260.8 634.2 258.9 632.8 257.7 632.2C256.6 631.6 254.9 630.5 253.4 629.6C251.8 628.6 248.1 626.1 246.4 625.2C244.6 624.3 241.5 624.1 240.3 622.6C239.0 621.1 237.2 615.9 236.8 613.8C236.3 611.7 237.2 608.7 236.8 606.9C236.3 605.0 233.9 602.1 233.3 599.9C232.7 597.7 232.3 592.4 232.4 590.3Z"/></clipPath>
<g clip-path="url(#b16)">
<path d="M232.4 590.3C232.5 588.2 233.4 585.3 234.1 584.1C234.8 583.0 235.5 582.0 237.6 581.9C239.7 581.8 248.0 582.5 249.9 583.3C251.7 584.0 250.8 586.6 251.6 587.6C252.4 588.7 255.5 590.0 256.0 591.1C256.4 592.3 254.6 595.1 255.1 596.4C255.6 597.7 259.8 599.6 260.0 600.7C260.2 601.9 257.3 603.7 256.9 605.1C256.4 606.5 256.2 609.4 256.9 611.2C257.6 613.1 260.7 617.1 262.1 619.1C263.5 621.1 266.6 624.6 267.3 626.1C268.0 627.6 268.0 629.4 267.3 630.4C266.6 631.5 263.4 633.7 262.1 633.9C260.8 634.2 258.9 632.8 257.7 632.2C256.6 631.6 254.9 630.5 253.4 629.6C251.8 628.6 248.1 626.1 246.4 625.2C244.6 624.3 241.5 624.1 240.3 622.6C239.0 621.1 237.2 615.9 236.8 613.8C236.3 611.7 237.2 608.7 236.8 606.9C236.3 605.0 233.9 602.1 233.3 599.9C232.7 597.7 232.3 592.4 232.4 590.3Z" fill="#727272"/>
<path d="M232.4 590.3C232.5 588.2 233.4 585.3 234.1 584.1C234.8 583.0 235.5 582.0 237.6 581.9C239.7 581.8 248.0 582.5 249.9 583.3C251.7 584.0 250.8 586.6 251.6 587.6C252.4 588.7 255.5 590.0 256.0 591.1C256.4 592.3 254.6 595.1 255.1 596.4C255.6 597.7 259.8 599.6 260.0 600.7C260.2 601.9 257.3 603.7 256.9 605.1C256.4 606.5 256.2 609.4 256.9 611.2C257.6 613.1 260.7 617.1 262.1 619.1C263.5 621.1 266.6 624.6 267.3 626.1C268.0 627.6 268.0 629.4 267.3 630.4C266.6 631.5 263.4 633.7 262.1 633.9C260.8 634.2 258.9 632.8 257.7 632.2C256.6 631.6 254.9 630.5 253.4 629.6C251.8 628.6 248.1 626.1 246.4 625.2C244.6 624.3 241.5 624.1 240.3 622.6C239.0 621.1 237.2 615.9 236.8 613.8C236.3 611.7 237.2 608.7 236.8 606.9C236.3 605.0 233.9 602.1 233.3 599.9C232.7 597.7 232.3 592.4 232.4 590.3Z" fill="#7b7b7b" filter="url(#f2)"/>
<path d="M235.0 585.9C237.1 582.9 244.6 583.6 248.1 585.0C251.6 586.4 251.4 589.2 252.5 592.9C253.5 596.6 252.8 599.2 253.4 603.4C253.9 607.6 254.1 610.3 255.1 613.8C256.2 617.3 259.0 618.7 258.6 620.8C258.3 622.9 256.2 624.3 253.4 624.3C250.6 624.3 247.4 623.3 244.6 620.8C241.8 618.4 240.8 616.3 239.4 612.1C238.0 607.9 238.5 605.1 237.6 599.9C236.8 594.6 232.9 588.9 235.0 585.9Z" fill="#8d8d8d" filter="url(#f2)"/>
<path d="M241.1 592.9C242.5 590.8 246.0 590.1 248.1 591.1C250.2 592.2 251.3 595.0 251.6 598.1C252.0 601.3 251.3 604.8 249.9 606.9C248.5 609.0 246.4 609.7 244.6 608.6C242.9 607.6 241.8 604.8 241.1 601.6C240.4 598.5 239.7 595.0 241.1 592.9Z" fill="#979797" filter="url(#f1)"/>
<path d="M255.1 597.2C256.0 596.7 259.1 599.2 259.5 600.7C259.8 602.3 257.7 604.6 256.9 605.1C256.0 605.6 255.5 604.9 255.1 603.4C254.8 601.8 254.2 597.8 255.1 597.2Z" fill="#6d6d6d" filter="url(#f1)"/>
</g>
<clipPath id="b17"><path d="M189.6 613.8C190.1 612.6 193.8 611.0 194.8 611.2C195.9 611.5 196.4 614.9 197.5 615.6C198.5 616.3 201.8 615.8 202.7 616.5C203.6 617.2 203.2 620.5 204.5 620.8C205.7 621.2 210.9 618.6 212.3 619.1C213.7 619.5 214.0 623.5 214.9 624.3C215.9 625.1 218.5 623.8 219.3 625.2C220.1 626.6 220.3 633.3 221.0 634.8C221.7 636.3 224.2 635.6 224.5 636.6C224.9 637.5 224.0 640.4 223.7 641.8C223.3 643.2 222.6 645.9 221.9 647.0C221.2 648.2 219.0 649.2 218.4 650.5C217.8 651.8 218.3 655.2 217.6 656.6C216.9 658.0 214.2 660.7 213.2 661.0C212.1 661.4 210.4 660.2 209.7 659.3C209.0 658.3 208.6 655.2 207.9 654.0C207.2 652.9 205.4 652.2 204.5 650.5C203.5 648.9 202.0 643.9 201.0 641.8C199.9 639.7 197.5 636.7 196.6 634.8C195.7 632.9 194.7 629.7 194.0 627.8C193.3 626.0 191.9 622.7 191.4 620.8C190.8 619.0 189.1 615.1 189.6 613.8Z"/></clipPath>
<g clip-path="url(#b17)">
<path d="M189.6 613.8C190.1 612.6 193.8 611.0 194.8 611.2C195.9 611.5 196.4 614.9 197.5 615.6C198.5 616.3 201.8 615.8 202.7 616.5C203.6 617.2 203.2 620.5 204.5 620.8C205.7 621.2 210.9 618.6 212.3 619.1C213.7 619.5 214.0 623.5 214.9 624.3C215.9 625.1 218.5 623.8 219.3 625.2C220.1 626.6 220.3 633.3 221.0 634.8C221.7 636.3 224.2 635.6 224.5 636.6C224.9 637.5 224.0 640.4 223.7 641.8C223.3 643.2 222.6 645.9 221.9 647.0C221.2 648.2 219.0 649.2 218.4 650.5C217.8 651.8 218.3 655.2 217.6 656.6C216.9 658.0 214.2 660.7 213.2 661.0C212.1 661.4 210.4 660.2 209.7 659.3C209.0 658.3 208.6 655.2 207.9 654.0C207.2 652.9 205.4 652.2 204.5 650.5C203.5 648.9 202.0 643.9 201.0 641.8C199.9 639.7 197.5 636.7 196.6 634.8C195.7 632.9 194.7 629.7 194.0 627.8C193.3 626.0 191.9 622.7 191.4 620.8C190.8 619.0 189.1 615.1 189.6 613.8Z" fill="#808080"/>
<path d="M197.5 624.3C199.2 621.9 202.7 620.7 206.2 620.8C209.7 621.0 212.1 622.4 214.9 625.2C217.7 628.0 218.8 631.1 220.2 634.8C221.6 638.5 222.4 640.0 221.9 643.5C221.4 647.0 219.5 649.3 217.6 652.3C215.6 655.2 214.2 658.4 212.3 658.4C210.4 658.4 209.9 655.6 207.9 652.3C206.0 649.0 204.8 645.6 202.7 641.8C200.6 637.9 198.5 636.6 197.5 633.1C196.4 629.6 195.7 626.8 197.5 624.3Z" fill="#8d8d8d" filter="url(#f2)"/>
<circle cx="215.8" cy="633.1" r="3.1" fill="#979797" filter="url(#f1)"/>
<circle cx="207.1" cy="644.9" r="3.1" fill="#9b9b9b" filter="url(#f1)"/>
<circle cx="210.0" cy="650.9" r="2.4" fill="#9b9b9b" filter="url(#f1)"/>
<circle cx="193.1" cy="621.7" r="1.7" fill="#727272" filter="url(#f1)"/>
</g>
<clipPath id="b18"><path d="M692.2 377.5C692.3 376.5 695.7 372.6 696.6 370.5C697.5 368.4 698.2 363.7 699.2 361.8C700.3 359.9 702.8 357.6 704.5 356.6C706.1 355.5 709.6 354.6 711.4 353.9C713.3 353.2 716.9 352.0 718.4 351.3C719.9 350.6 722.0 348.2 722.8 348.7C723.6 349.2 723.6 353.4 724.5 354.8C725.5 356.2 728.9 358.0 729.8 359.2C730.7 360.3 731.9 362.5 731.5 363.5C731.2 364.6 728.1 365.9 727.2 367.0C726.2 368.2 724.5 371.0 724.5 372.3C724.5 373.6 727.4 375.8 727.2 376.6C726.9 377.5 724.1 378.4 722.8 378.4C721.5 378.4 719.1 376.5 717.6 376.6C716.0 376.8 713.0 378.6 711.4 379.3C709.9 380.0 707.6 381.9 706.2 381.9C704.8 381.9 702.4 379.7 701.0 379.3C699.6 378.8 696.9 378.6 695.7 378.4C694.6 378.2 692.1 378.6 692.2 377.5Z"/></clipPath>
<g clip-path="url(#b18)">
<path d="M692.2 377.5C692.3 376.5 695.7 372.6 696.6 370.5C697.5 368.4 698.2 363.7 699.2 361.8C700.3 359.9 702.8 357.6 704.5 356.6C706.1 355.5 709.6 354.6 711.4 353.9C713.3 353.2 716.9 352.0 718.4 351.3C719.9 350.6 722.0 348.2 722.8 348.7C723.6 349.2 723.6 353.4 724.5 354.8C725.5 356.2 728.9 358.0 729.8 359.2C730.7 360.3 731.9 362.5 731.5 363.5C731.2 364.6 728.1 365.9 727.2 367.0C726.2 368.2 724.5 371.0 724.5 372.3C724.5 373.6 727.4 375.8 727.2 376.6C726.9 377.5 724.1 378.4 722.8 378.4C721.5 378.4 719.1 376.5 717.6 376.6C716.0 376.8 713.0 378.6 711.4 379.3C709.9 380.0 707.6 381.9 706.2 381.9C704.8 381.9 702.4 379.7 701.0 379.3C699.6 378.8 696.9 378.6 695.7 378.4C694.6 378.2 692.1 378.6 692.2 377.5Z" fill="#646464"/>
<path d="M692.2 377.5C692.3 376.5 695.7 372.6 696.6 370.5C697.5 368.4 698.2 363.7 699.2 361.8C700.3 359.9 702.8 357.6 704.5 356.6C706.1 355.5 709.6 354.6 711.4 353.9C713.3 353.2 716.9 352.0 718.4 351.3C719.9 350.6 722.0 348.2 722.8 348.7C723.6 349.2 723.6 353.4 724.5 354.8C725.5 356.2 728.9 358.0 729.8 359.2C730.7 360.3 731.9 362.5 731.5 363.5C731.2 364.6 728.1 365.9 727.2 367.0C726.2 368.2 724.5 371.0 724.5 372.3C724.5 373.6 727.4 375.8 727.2 376.6C726.9 377.5 724.1 378.4 722.8 378.4C721.5 378.4 719.1 376.5 717.6 376.6C716.0 376.8 713.0 378.6 711.4 379.3C709.9 380.0 707.6 381.9 706.2 381.9C704.8 381.9 702.4 379.7 701.0 379.3C699.6 378.8 696.9 378.6 695.7 378.4C694.6 378.2 692.1 378.6 692.2 377.5Z" fill="#7b7b7b" filter="url(#f2)"/>
<path d="M705.3 363.5C706.0 361.1 708.5 359.5 711.4 359.2C714.4 358.8 717.2 360.7 720.2 361.8C723.1 362.8 726.3 363.4 726.3 364.4C726.3 365.5 722.8 365.8 720.2 367.0C717.6 368.3 715.6 369.7 713.2 370.5C710.7 371.4 709.5 372.8 707.9 371.4C706.4 370.0 704.6 366.0 705.3 363.5Z" fill="#898989" filter="url(#f1)"/>
<path d="M692.2 377.5C691.4 375.6 695.2 371.6 696.6 370.5C698.0 369.5 698.0 370.7 699.2 372.3C700.4 373.8 701.3 376.5 702.7 378.4C704.1 380.3 706.6 381.5 706.2 381.9C705.9 382.2 703.8 381.0 701.0 380.1C698.2 379.3 693.1 379.4 692.2 377.5Z" fill="#565656" filter="url(#f1)"/>
</g>
<clipPath id="b19"><path d="M804.9 295.4C805.6 293.9 808.6 291.5 810.1 291.0C811.6 290.6 814.5 292.2 816.2 291.9C818.0 291.7 821.6 289.5 823.2 289.3C824.9 289.1 827.8 288.9 828.5 290.2C829.2 291.5 828.9 297.0 828.5 298.9C828.0 300.8 825.4 302.3 825.0 304.1C824.5 306.0 824.5 311.0 825.0 312.9C825.4 314.7 828.5 316.7 828.5 318.1C828.5 319.5 825.7 322.0 825.0 323.4C824.3 324.8 824.4 327.6 823.2 328.6C822.1 329.7 817.9 330.3 816.2 331.2C814.6 332.2 812.3 335.2 811.0 335.6C809.7 335.9 807.3 335.2 806.6 333.8C805.9 332.4 806.3 327.2 805.8 325.1C805.2 323.0 802.4 319.8 802.3 318.1C802.2 316.5 804.2 314.0 804.9 312.9C805.6 311.7 807.5 310.8 807.5 309.4C807.5 308.0 805.2 304.3 804.9 302.4C804.5 300.5 804.2 296.9 804.9 295.4Z"/></clipPath>
<g clip-path="url(#b19)">
<path d="M804.9 295.4C805.6 293.9 808.6 291.5 810.1 291.0C811.6 290.6 814.5 292.2 816.2 291.9C818.0 291.7 821.6 289.5 823.2 289.3C824.9 289.1 827.8 288.9 828.5 290.2C829.2 291.5 828.9 297.0 828.5 298.9C828.0 300.8 825.4 302.3 825.0 304.1C824.5 306.0 824.5 311.0 825.0 312.9C825.4 314.7 828.5 316.7 828.5 318.1C828.5 319.5 825.7 322.0 825.0 323.4C824.3 324.8 824.4 327.6 823.2 328.6C822.1 329.7 817.9 330.3 816.2 331.2C814.6 332.2 812.3 335.2 811.0 335.6C809.7 335.9 807.3 335.2 806.6 333.8C805.9 332.4 806.3 327.2 805.8 325.1C805.2 323.0 802.4 319.8 802.3 318.1C802.2 316.5 804.2 314.0 804.9 312.9C805.6 311.7 807.5 310.8 807.5 309.4C807.5 308.0 805.2 304.3 804.9 302.4C804.5 300.5 804.2 296.9 804.9 295.4Z" fill="#727272"/>
<path d="M804.9 295.4C805.6 293.9 808.6 291.5 810.1 291.0C811.6 290.6 814.5 292.2 816.2 291.9C818.0 291.7 821.6 289.5 823.2 289.3C824.9 289.1 827.8 288.9 828.5 290.2C829.2 291.5 828.9 297.0 828.5 298.9C828.0 300.8 825.4 302.3 825.0 304.1C824.5 306.0 824.5 311.0 825.0 312.9C825.4 314.7 828.5 316.7 828.5 318.1C828.5 319.5 825.7 322.0 825.0 323.4C824.3 324.8 824.4 327.6 823.2 328.6C822.1 329.7 817.9 330.3 816.2 331.2C814.6 332.2 812.3 335.2 811.0 335.6C809.7 335.9 807.3 335.2 806.6 333.8C805.9 332.4 806.3 327.2 805.8 325.1C805.2 323.0 802.4 319.8 802.3 318.1C802.2 316.5 804.2 314.0 804.9 312.9C805.6 311.7 807.5 310.8 807.5 309.4C807.5 308.0 805.2 304.3 804.9 302.4C804.5 300.5 804.2 296.9 804.9 295.4Z" fill="#7b7b7b" filter="url(#f2)"/>
<path d="M805.8 295.4C807.2 293.3 809.3 292.8 812.8 291.9C816.2 291.0 820.3 290.3 823.2 291.0C826.2 291.7 827.6 293.1 827.6 295.4C827.6 297.7 825.9 300.0 823.2 302.4C820.6 304.8 817.5 306.2 814.5 307.6C811.5 309.0 810.1 310.4 808.4 309.4C806.6 308.3 806.3 305.2 805.8 302.4C805.2 299.6 804.4 297.5 805.8 295.4Z" fill="#979797" filter="url(#f2)"/>
<circle cx="819.7" cy="295.8" r="3.1" fill="#9b9b9b" filter="url(#f1)"/>
<circle cx="811.9" cy="296.3" r="3.1" fill="#9b9b9b" filter="url(#f1)"/>
<circle cx="811.0" cy="305.9" r="2.8" fill="#979797" filter="url(#f1)"/>
<circle cx="816.2" cy="316.7" r="3.5" fill="#898989" filter="url(#f1)"/>
<circle cx="811.9" cy="325.5" r="3.1" fill="#898989" filter="url(#f1)"/>
<circle cx="821.8" cy="307.6" r="2.1" fill="#727272" filter="url(#f1)"/>
</g>
<clipPath id="b20"><path d="M788.3 340.8C789.1 339.8 793.7 339.0 795.3 339.1C796.9 339.2 799.1 341.9 800.5 341.7C801.9 341.5 804.6 337.7 805.8 337.3C806.9 337.0 807.6 339.2 809.3 339.1C810.9 339.0 815.9 337.2 818.0 336.5C820.1 335.8 823.6 334.4 825.0 333.8C826.4 333.3 827.5 331.9 828.5 332.1C829.4 332.3 832.0 334.7 832.0 335.6C832.0 336.5 829.1 337.2 828.5 339.1C827.9 340.9 828.3 347.7 827.6 349.6C826.9 351.4 824.7 352.1 823.2 353.1C821.7 354.0 817.4 355.2 816.2 356.6C815.1 357.9 814.8 361.6 814.5 363.5C814.1 365.5 814.3 369.9 813.6 371.4C812.9 372.9 810.8 374.4 809.3 374.9C807.7 375.4 804.4 374.9 802.3 374.9C800.2 374.9 795.2 375.2 793.5 374.9C791.9 374.5 791.2 372.6 790.0 372.3C788.9 371.9 785.6 373.3 784.8 372.3C784.0 371.2 783.8 366.3 784.3 364.4C784.7 362.5 787.3 359.8 788.3 358.3C789.3 356.8 791.7 354.6 791.8 353.1C791.9 351.5 789.6 348.6 789.2 346.9C788.7 345.3 787.5 341.9 788.3 340.8Z"/></clipPath>
<g clip-path="url(#b20)">
<path d="M788.3 340.8C789.1 339.8 793.7 339.0 795.3 339.1C796.9 339.2 799.1 341.9 800.5 341.7C801.9 341.5 804.6 337.7 805.8 337.3C806.9 337.0 807.6 339.2 809.3 339.1C810.9 339.0 815.9 337.2 818.0 336.5C820.1 335.8 823.6 334.4 825.0 333.8C826.4 333.3 827.5 331.9 828.5 332.1C829.4 332.3 832.0 334.7 832.0 335.6C832.0 336.5 829.1 337.2 828.5 339.1C827.9 340.9 828.3 347.7 827.6 349.6C826.9 351.4 824.7 352.1 823.2 353.1C821.7 354.0 817.4 355.2 816.2 356.6C815.1 357.9 814.8 361.6 814.5 363.5C814.1 365.5 814.3 369.9 813.6 371.4C812.9 372.9 810.8 374.4 809.3 374.9C807.7 375.4 804.4 374.9 802.3 374.9C800.2 374.9 795.2 375.2 793.5 374.9C791.9 374.5 791.2 372.6 790.0 372.3C788.9 371.9 785.6 373.3 784.8 372.3C784.0 371.2 783.8 366.3 784.3 364.4C784.7 362.5 787.3 359.8 788.3 358.3C789.3 356.8 791.7 354.6 791.8 353.1C791.9 351.5 789.6 348.6 789.2 346.9C788.7 345.3 787.5 341.9 788.3 340.8Z" fill="#727272"/>
<path d="M788.3 340.8C789.1 339.8 793.7 339.0 795.3 339.1C796.9 339.2 799.1 341.9 800.5 341.7C801.9 341.5 804.6 337.7 805.8 337.3C806.9 337.0 807.6 339.2 809.3 339.1C810.9 339.0 815.9 337.2 818.0 336.5C820.1 335.8 823.6 334.4 825.0 333.8C826.4 333.3 827.5 331.9 828.5 332.1C829.4 332.3 832.0 334.7 832.0 335.6C832.0 336.5 829.1 337.2 828.5 339.1C827.9 340.9 828.3 347.7 827.6 349.6C826.9 351.4 824.7 352.1 823.2 353.1C821.7 354.0 817.4 355.2 816.2 356.6C815.1 357.9 814.8 361.6 814.5 363.5C814.1 365.5 814.3 369.9 813.6 371.4C812.9 372.9 810.8 374.4 809.3 374.9C807.7 375.4 804.4 374.9 802.3 374.9C800.2 374.9 795.2 375.2 793.5 374.9C791.9 374.5 791.2 372.6 790.0 372.3C788.9 371.9 785.6 373.3 784.8 372.3C784.0 371.2 783.8 366.3 784.3 364.4C784.7 362.5 787.3 359.8 788.3 358.3C789.3 356.8 791.7 354.6 791.8 353.1C791.9 351.5 789.6 348.6 789.2 346.9C788.7 345.3 787.5 341.9 788.3 340.8Z" fill="#7b7b7b" filter="url(#f2)"/>
<circle cx="795.3" cy="345.2" r="3.8" fill="#979797" filter="url(#f1)"/>
<circle cx="810.1" cy="348.7" r="4.9" fill="#929292" filter="url(#f1)"/>
<path d="M786.6 363.5C787.6 361.3 790.4 360.2 793.5 359.2C796.7 358.1 800.9 357.4 802.3 358.3C803.7 359.2 802.3 361.8 800.5 363.5C798.8 365.3 796.0 365.6 793.5 367.0C791.1 368.4 789.7 371.2 788.3 370.5C786.9 369.8 785.5 365.8 786.6 363.5Z" fill="#929292" filter="url(#f1)"/>
<circle cx="789.7" cy="368.4" r="3.1" fill="#929292" filter="url(#f1)"/>
<circle cx="819.7" cy="345.2" r="3.5" fill="#848484" filter="url(#f1)"/>
<circle cx="808.4" cy="371.4" r="2.4" fill="#898989" filter="url(#f1)"/>
<path d="M801.4 340.8C801.9 339.4 805.1 337.6 806.6 337.3C808.2 337.1 809.7 338.0 809.3 339.4C808.8 340.8 805.9 344.0 804.4 344.3C802.8 344.6 800.9 342.2 801.4 340.8Z" fill="#646464" filter="url(#f1)"/>
</g>
<clipPath id="b21"><path d="M509.0 543.2C509.4 542.3 511.3 539.8 512.4 538.9C513.4 538.1 515.4 537.2 516.6 536.5C517.9 535.9 520.3 534.4 521.5 534.1C522.8 533.8 525.8 533.7 526.2 534.3C526.6 535.0 524.9 537.7 524.6 538.9C524.3 540.2 524.3 542.9 524.0 543.8C523.7 544.8 522.8 545.5 522.1 546.0C521.5 546.5 519.8 547.5 519.1 547.5C518.4 547.5 517.5 545.7 516.6 545.7C515.8 545.7 513.3 547.5 512.4 547.5C511.4 547.5 509.8 546.6 509.3 546.0C508.9 545.5 508.5 544.2 509.0 543.2Z"/></clipPath>
<g clip-path="url(#b21)">
<path d="M509.0 543.2C509.4 542.3 511.3 539.8 512.4 538.9C513.4 538.1 515.4 537.2 516.6 536.5C517.9 535.9 520.3 534.4 521.5 534.1C522.8 533.8 525.8 533.7 526.2 534.3C526.6 535.0 524.9 537.7 524.6 538.9C524.3 540.2 524.3 542.9 524.0 543.8C523.7 544.8 522.8 545.5 522.1 546.0C521.5 546.5 519.8 547.5 519.1 547.5C518.4 547.5 517.5 545.7 516.6 545.7C515.8 545.7 513.3 547.5 512.4 547.5C511.4 547.5 509.8 546.6 509.3 546.0C508.9 545.5 508.5 544.2 509.0 543.2Z" fill="#3f3f3f"/>
<path d="M509.0 543.2C509.4 542.3 511.3 539.8 512.4 538.9C513.4 538.1 515.4 537.2 516.6 536.5C517.9 535.9 520.3 534.4 521.5 534.1C522.8 533.8 525.8 533.7 526.2 534.3C526.6 535.0 524.9 537.7 524.6 538.9C524.3 540.2 524.3 542.9 524.0 543.8C523.7 544.8 522.8 545.5 522.1 546.0C521.5 546.5 519.8 547.5 519.1 547.5C518.4 547.5 517.5 545.7 516.6 545.7C515.8 545.7 513.3 547.5 512.4 547.5C511.4 547.5 509.8 546.6 509.3 546.0C508.9 545.5 508.5 544.2 509.0 543.2Z" fill="#515151" filter="url(#f2)"/>
<path d="M511.8 542.6C512.0 541.4 514.8 539.6 516.6 538.9C518.5 538.3 520.2 538.7 520.9 539.6C521.7 540.4 521.4 542.1 520.3 543.2C519.2 544.3 517.1 545.2 515.4 545.1C513.7 544.9 511.5 543.8 511.8 542.6Z" fill="#646464" filter="url(#f1)"/>
<circle cx="522.8" cy="538.7" r="1.0" fill="#232323" filter="url(#f1)"/>
</g>
</g>
<path d="M540.8 267.2C541.7 266.3 549.5 261.0 551.3 260.2C553.1 259.4 558.4 258.8 559.2 258.9C560.0 259.0 560.3 260.3 559.6 261.1C559.0 261.8 554.3 265.5 553.1 266.4C551.8 267.2 548.0 269.1 546.9 269.4C545.8 269.8 542.7 270.1 542.1 269.9C541.5 269.7 539.8 268.2 540.8 267.2Z" fill="#9fce92"/>
<path d="M544.3 282.2C544.3 281.4 548.4 277.9 549.5 276.9C550.7 275.9 554.5 273.0 555.7 272.5C556.9 272.0 560.7 271.7 561.8 272.1C563.0 272.4 566.0 275.7 567.1 276.0C568.3 276.3 572.0 275.2 573.3 275.1C574.5 275.1 578.5 275.3 579.4 275.6C580.3 275.9 582.1 277.2 582.1 277.8C582.0 278.4 579.2 280.6 578.5 281.3C577.8 282.0 576.1 283.9 575.0 284.4C574.0 284.8 569.3 285.5 568.0 285.7C566.7 285.9 562.7 286.3 561.8 286.1C561.0 286.0 559.6 284.5 559.6 283.9C559.6 283.4 561.9 281.0 561.8 280.4C561.8 279.8 559.9 277.8 559.2 277.8C558.5 277.8 555.4 279.8 554.8 280.4C554.2 281.0 553.1 283.2 553.1 283.9C553.0 284.6 554.3 287.4 553.9 287.5C553.6 287.5 550.5 285.3 549.5 284.8C548.6 284.3 544.3 283.0 544.3 282.2Z" fill="#5fb09e"/>
<path d="M513.5 290.1C513.7 289.3 518.5 285.7 519.7 284.8C520.8 283.9 524.0 281.8 524.9 281.3C525.9 280.8 528.5 279.7 528.9 280.0C529.2 280.2 528.8 283.0 528.5 283.9C528.1 284.9 526.3 288.3 525.8 289.2C525.3 290.1 524.0 292.4 523.2 292.7C522.4 293.0 518.9 292.5 517.9 292.3C516.9 292.0 513.3 290.8 513.5 290.1Z" fill="#88c597"/>
<path d="M517.8 392.9C518.2 391.9 526.5 384.4 527.6 383.3C528.7 382.2 533.7 376.9 534.6 376.3C535.5 375.6 539.8 374.3 540.7 373.7C541.6 373.0 547.6 367.1 548.6 366.7C549.6 366.2 555.5 366.6 555.7 367.0C556.0 367.4 552.6 371.9 552.1 372.8C551.5 373.6 547.6 378.9 546.8 379.8C546.0 380.7 540.8 385.0 539.8 385.9C538.8 386.8 533.0 392.0 532.0 392.9C531.0 393.8 525.5 399.2 524.8 399.5C524.1 399.8 521.8 397.9 521.3 397.4C520.8 397.0 517.4 393.8 517.8 392.9Z" fill="#5a6dba"/>
<circle cx="515.2" cy="378.9" r="1.9" fill="#428bbf"/>
<circle cx="520.4" cy="374.5" r="1.9" fill="#428bbf"/>
<circle cx="524.3" cy="373.3" r="1.6" fill="#428bbf"/>
<circle cx="430.1" cy="336.1" r="1.4" fill="#88c597"/>
<circle cx="438.9" cy="346.9" r="1.7" fill="#72bc9a"/>
<circle cx="406.9" cy="353.6" r="1.6" fill="#88c597"/>
<circle cx="431.9" cy="381.2" r="1.0" fill="#5fb09e"/>
<circle cx="429.6" cy="386.8" r="1.7" fill="#5fb09e"/>
<circle cx="255.9" cy="461.4" r="2.6" fill="#f8f9b0"/>
<circle cx="294.0" cy="476.8" r="2.3" fill="#c6de8c"/>
<circle cx="293.4" cy="489.4" r="2.6" fill="#c6de8c"/>
<circle cx="290.8" cy="498.6" r="2.4" fill="#d9e78f"/>
<circle cx="342.9" cy="525.7" r="1.6" fill="#88c597"/>
<circle cx="379.9" cy="589.0" r="1.6" fill="#9fce92"/>
<circle cx="406.8" cy="496.2" r="1.6" fill="#4fa6a8"/>
<circle cx="380.0" cy="588.8" r="2.1" fill="#b2d68e"/>
<circle cx="462.1" cy="627.6" r="2.6" fill="#88c597"/>
<circle cx="464.9" cy="634.5" r="1.7" fill="#72bc9a"/>
<circle cx="308.4" cy="558.3" r="2.6" fill="#f8f9b0"/>
<circle cx="306.6" cy="564.1" r="2.1" fill="#f8f9b0"/>
<circle cx="321.1" cy="554.1" r="1.7" fill="#b2d68e"/>
<rect x="796.2" y="330.9" width="4.4" height="4.7" fill="#b2d68e"/>
<ellipse cx="869.0" cy="279.3" rx="6.3" ry="3.7" transform="rotate(-28 869.0 279.3)" fill="#f8f9b0"/>
<rect x="660.3" y="395.3" width="3.5" height="1.7" fill="#4498b3"/>
<path d="M607.9 440.7L611.4 440.7L609.6 444.8L607.9 444.8Z" fill="#3b3f9e"/>
<rect x="613.1" y="439.9" width="2.6" height="1.7" fill="#3b4fae"/>
<path d="M618.0 433.2L620.1 432.9L619.7 436.7L618.0 436.4Z" fill="#4a50b0"/>
<rect x="620.1" y="419.1" width="1.0" height="1.2" fill="#6254a6"/>
<path d="M676.0 451.2L679.5 451.2L682.1 449.5L685.6 450.3L689.1 453.0L696.9 452.1L696.6 459.1L694.3 460.8L691.7 458.2L689.1 455.6L684.7 455.2L682.1 452.1L678.1 453.0L677.7 455.1L676.2 455.1Z" fill="#5fb09e"/>
<rect x="668.1" y="446.9" width="1.7" height="3.1" fill="#88c597"/>
<path d="M690.0 463.1L695.2 463.4L698.7 465.2L703.9 465.2L703.9 467.5L697.8 467.8L694.3 466.1L690.1 465.7Z" fill="#4498b3"/>
<rect x="742.9" y="459.8" width="4.2" height="3.1" fill="#72bc9a"/>
<path d="M752.1 724.3L756.9 724.3L758.4 727.2L759.7 729.3L757.9 731.4L754.8 731.9L752.4 729.8Z" fill="#f8f9b0"/>
<path d="M682.2 761.3L685.7 761.0L687.7 763.9L687.7 766.5L685.7 768.1L682.5 767.0Z" fill="#e6ef9e"/>
<path d="M677.3 770.2L680.4 767.5L683.0 768.6L684.1 771.7L680.9 774.9L678.3 773.3Z" fill="#d9e78f"/>
<rect x="853.0" y="454.0" width="7.9" height="3.9" fill="#f8f9b0"/>
<rect x="539.9" y="528.9" width="1.8" height="8.8" fill="#6254a6"/>
<path d="M548.0 531.6L551.5 527.3L553.1 527.0L553.1 534.1L549.6 535.0L548.0 534.1Z" fill="#428bbf"/>
<path d="M557.0 526.1L560.6 526.7L563.1 528.6L562.8 530.0L560.0 528.2L557.2 527.3Z" fill="#302847"/>
<path d="M524.0 460.2L526.4 457.7L530.1 457.1L533.1 458.3L533.8 460.8L524.6 461.0Z" fill="#372f55"/>
<rect x="490.3" y="463.5" width="1.5" height="2.2" fill="#372f55"/>
<path d="M578.3 450.4L581.4 447.3L583.8 446.1L584.4 447.9L582.0 449.8L579.2 451.2Z" fill="#6560b1"/>
</g>
<path d="M605.3 250L559.0 430" stroke="#fff" stroke-width="2.4" fill="none"/>
<path fill="#808080" fill-opacity="0.496" fill-rule="evenodd" d="M148 72H948V872H148Z M551.5 466.5L860.39 240.70A389 389 0 1 1 646.03 96.06Z"/>
</g>
<path d="M671.6 472.6L676.1 477.1L671.6 481.6L667.1 477.1Z" fill="#000"/>
<rect x="148" y="72" width="800" height="800" fill="none" stroke="#000" stroke-width="2"/>
<g stroke="#000" stroke-width="2"><line x1="330.6" y1="873" x2="330.6" y2="883"/><line x1="602.0" y1="873" x2="602.0" y2="883"/><line x1="873.4" y1="873" x2="873.4" y2="883"/><line x1="137" y1="106.0" x2="147" y2="106.0"/><line x1="137" y1="283.6" x2="147" y2="283.6"/><line x1="137" y1="461.1" x2="147" y2="461.1"/><line x1="137" y1="638.7" x2="147" y2="638.7"/><line x1="137" y1="816.3" x2="147" y2="816.3"/></g>
<text transform="translate(330.6,915.0) scale(1,1.05)" text-anchor="middle"><tspan dy="1.6">−</tspan><tspan dy="-1.6">108</tspan></text>
<text transform="translate(602.0,915.0) scale(1,1.05)" text-anchor="middle"><tspan dy="1.6">−</tspan><tspan dy="-1.6">107</tspan></text>
<text transform="translate(873.4,915.0) scale(1,1.05)" text-anchor="middle"><tspan dy="1.6">−</tspan><tspan dy="-1.6">106</tspan></text>
<text transform="translate(129.0,116.7) scale(1,1.05)" text-anchor="end">41.5</text>
<text transform="translate(129.0,294.3) scale(1,1.05)" text-anchor="end">41.0</text>
<text transform="translate(129.0,471.8) scale(1,1.05)" text-anchor="end">40.5</text>
<text transform="translate(129.0,649.4) scale(1,1.05)" text-anchor="end">40.0</text>
<text transform="translate(129.0,827.0) scale(1,1.05)" text-anchor="end">39.5</text>
<text transform="translate(548.0,953.2) scale(1,1.05)" text-anchor="middle">Longitude</text>
<text transform="translate(58.0,472.0) rotate(-90) scale(1,1.05)" text-anchor="middle">Latitude</text>
<text transform="translate(548.0,58.0) scale(1,1.05)" text-anchor="middle" class="t">SEA-POL 20250401 0407-0408 UTC Composite Reflectivity</text>
<g>
<rect x="984" y="72.00" width="24" height="800.00" fill="#40004e"/>
<rect x="984" y="86.55" width="24" height="785.45" fill="#541262"/>
<rect x="984" y="101.09" width="24" height="770.91" fill="#682476"/>
<rect x="984" y="115.64" width="24" height="756.36" fill="#8b4c9c"/>
<rect x="984" y="130.18" width="24" height="741.82" fill="#9c6aae"/>
<rect x="984" y="144.73" width="24" height="727.27" fill="#ab80be"/>
<rect x="984" y="159.27" width="24" height="712.73" fill="#df9bcf"/>
<rect x="984" y="173.82" width="24" height="698.18" fill="#e07db3"/>
<rect x="984" y="188.36" width="24" height="683.64" fill="#df63a7"/>
<rect x="984" y="202.91" width="24" height="669.09" fill="#d64593"/>
<rect x="984" y="217.45" width="24" height="654.55" fill="#c52c7e"/>
<rect x="984" y="232.00" width="24" height="640.00" fill="#ae1a68"/>
<rect x="984" y="246.55" width="24" height="625.45" fill="#9a004c"/>
<rect x="984" y="261.09" width="24" height="610.91" fill="#a91145"/>
<rect x="984" y="275.64" width="24" height="596.36" fill="#ba2247"/>
<rect x="984" y="290.18" width="24" height="581.82" fill="#c73345"/>
<rect x="984" y="304.73" width="24" height="567.27" fill="#d24245"/>
<rect x="984" y="319.27" width="24" height="552.73" fill="#de5440"/>
<rect x="984" y="333.82" width="24" height="538.18" fill="#e7663e"/>
<rect x="984" y="348.36" width="24" height="523.64" fill="#eb7844"/>
<rect x="984" y="362.91" width="24" height="509.09" fill="#ed8b4b"/>
<rect x="984" y="377.45" width="24" height="494.55" fill="#ed9c55"/>
<rect x="984" y="392.00" width="24" height="480.00" fill="#eeae62"/>
<rect x="984" y="406.55" width="24" height="465.45" fill="#efbe6f"/>
<rect x="984" y="421.09" width="24" height="450.91" fill="#f0cd7e"/>
<rect x="984" y="435.64" width="24" height="436.36" fill="#f3da8c"/>
<rect x="984" y="450.18" width="24" height="421.82" fill="#f6eba1"/>
<rect x="984" y="464.73" width="24" height="407.27" fill="#fcfab5"/>
<rect x="984" y="479.27" width="24" height="392.73" fill="#f8f9b0"/>
<rect x="984" y="493.82" width="24" height="378.18" fill="#e6ef9e"/>
<rect x="984" y="508.36" width="24" height="363.64" fill="#d9e78f"/>
<rect x="984" y="522.91" width="24" height="349.09" fill="#c6de8c"/>
<rect x="984" y="537.45" width="24" height="334.55" fill="#b2d68e"/>
<rect x="984" y="552.00" width="24" height="320.00" fill="#9fce92"/>
<rect x="984" y="566.55" width="24" height="305.45" fill="#88c597"/>
<rect x="984" y="581.09" width="24" height="290.91" fill="#72bc9a"/>
<rect x="984" y="595.64" width="24" height="276.36" fill="#5fb09e"/>
<rect x="984" y="610.18" width="24" height="261.82" fill="#4fa6a8"/>
<rect x="984" y="624.73" width="24" height="247.27" fill="#4498b3"/>
<rect x="984" y="639.27" width="24" height="232.73" fill="#428bbf"/>
<rect x="984" y="653.82" width="24" height="218.18" fill="#4a7fc0"/>
<rect x="984" y="668.36" width="24" height="203.64" fill="#5a6dba"/>
<rect x="984" y="682.91" width="24" height="189.09" fill="#6560b1"/>
<rect x="984" y="697.45" width="24" height="174.55" fill="#6254a6"/>
<rect x="984" y="712.00" width="24" height="160.00" fill="#594b96"/>
<rect x="984" y="726.55" width="24" height="145.45" fill="#514686"/>
<rect x="984" y="741.09" width="24" height="130.91" fill="#483d75"/>
<rect x="984" y="755.64" width="24" height="116.36" fill="#403564"/>
<rect x="984" y="770.18" width="24" height="101.82" fill="#372f55"/>
<rect x="984" y="784.73" width="24" height="87.27" fill="#302847"/>
<rect x="984" y="799.27" width="24" height="72.73" fill="#29233b"/>
<rect x="984" y="813.82" width="24" height="58.18" fill="#221d30"/>
<rect x="984" y="828.36" width="24" height="43.64" fill="#181622"/>
<rect x="984" y="842.91" width="24" height="29.09" fill="#0e0d14"/>
<rect x="984" y="857.45" width="24" height="14.55" fill="#000000"/>
</g>
<rect x="984" y="72" width="24" height="800" fill="none" stroke="#000" stroke-width="2"/>
<g stroke="#000" stroke-width="2"><line x1="1009" y1="872.0" x2="1019" y2="872.0"/><line x1="1009" y1="799.3" x2="1019" y2="799.3"/><line x1="1009" y1="726.5" x2="1019" y2="726.5"/><line x1="1009" y1="653.8" x2="1019" y2="653.8"/><line x1="1009" y1="581.1" x2="1019" y2="581.1"/><line x1="1009" y1="508.4" x2="1019" y2="508.4"/><line x1="1009" y1="435.6" x2="1019" y2="435.6"/><line x1="1009" y1="362.9" x2="1019" y2="362.9"/><line x1="1009" y1="290.2" x2="1019" y2="290.2"/><line x1="1009" y1="217.5" x2="1019" y2="217.5"/><line x1="1009" y1="144.7" x2="1019" y2="144.7"/><line x1="1009" y1="72.0" x2="1019" y2="72.0"/></g>
<text transform="translate(1026.0,882.7) scale(1,1.05)" text-anchor="start"><tspan dy="1.6">−</tspan><tspan dy="-1.6">10</tspan></text>
<text transform="translate(1026.0,810.0) scale(1,1.05)" text-anchor="start"><tspan dy="1.6">−</tspan><tspan dy="-1.6">5</tspan></text>
<text transform="translate(1026.0,737.2) scale(1,1.05)" text-anchor="start">0</text>
<text transform="translate(1026.0,664.5) scale(1,1.05)" text-anchor="start">5</text>
<text transform="translate(1026.0,591.8) scale(1,1.05)" text-anchor="start">10</text>
<text transform="translate(1026.0,519.1) scale(1,1.05)" text-anchor="start">15</text>
<text transform="translate(1026.0,446.3) scale(1,1.05)" text-anchor="start">20</text>
<text transform="translate(1026.0,373.6) scale(1,1.05)" text-anchor="start">25</text>
<text transform="translate(1026.0,300.9) scale(1,1.05)" text-anchor="start">30</text>
<text transform="translate(1026.0,228.2) scale(1,1.05)" text-anchor="start">35</text>
<text transform="translate(1026.0,155.4) scale(1,1.05)" text-anchor="start">40</text>
<text transform="translate(1026.0,82.7) scale(1,1.05)" text-anchor="start">45</text>
<text transform="translate(1110.0,472.0) rotate(-90) scale(1,1.05)" text-anchor="middle">dBZ</text>
</svg>
</body>
</html>
